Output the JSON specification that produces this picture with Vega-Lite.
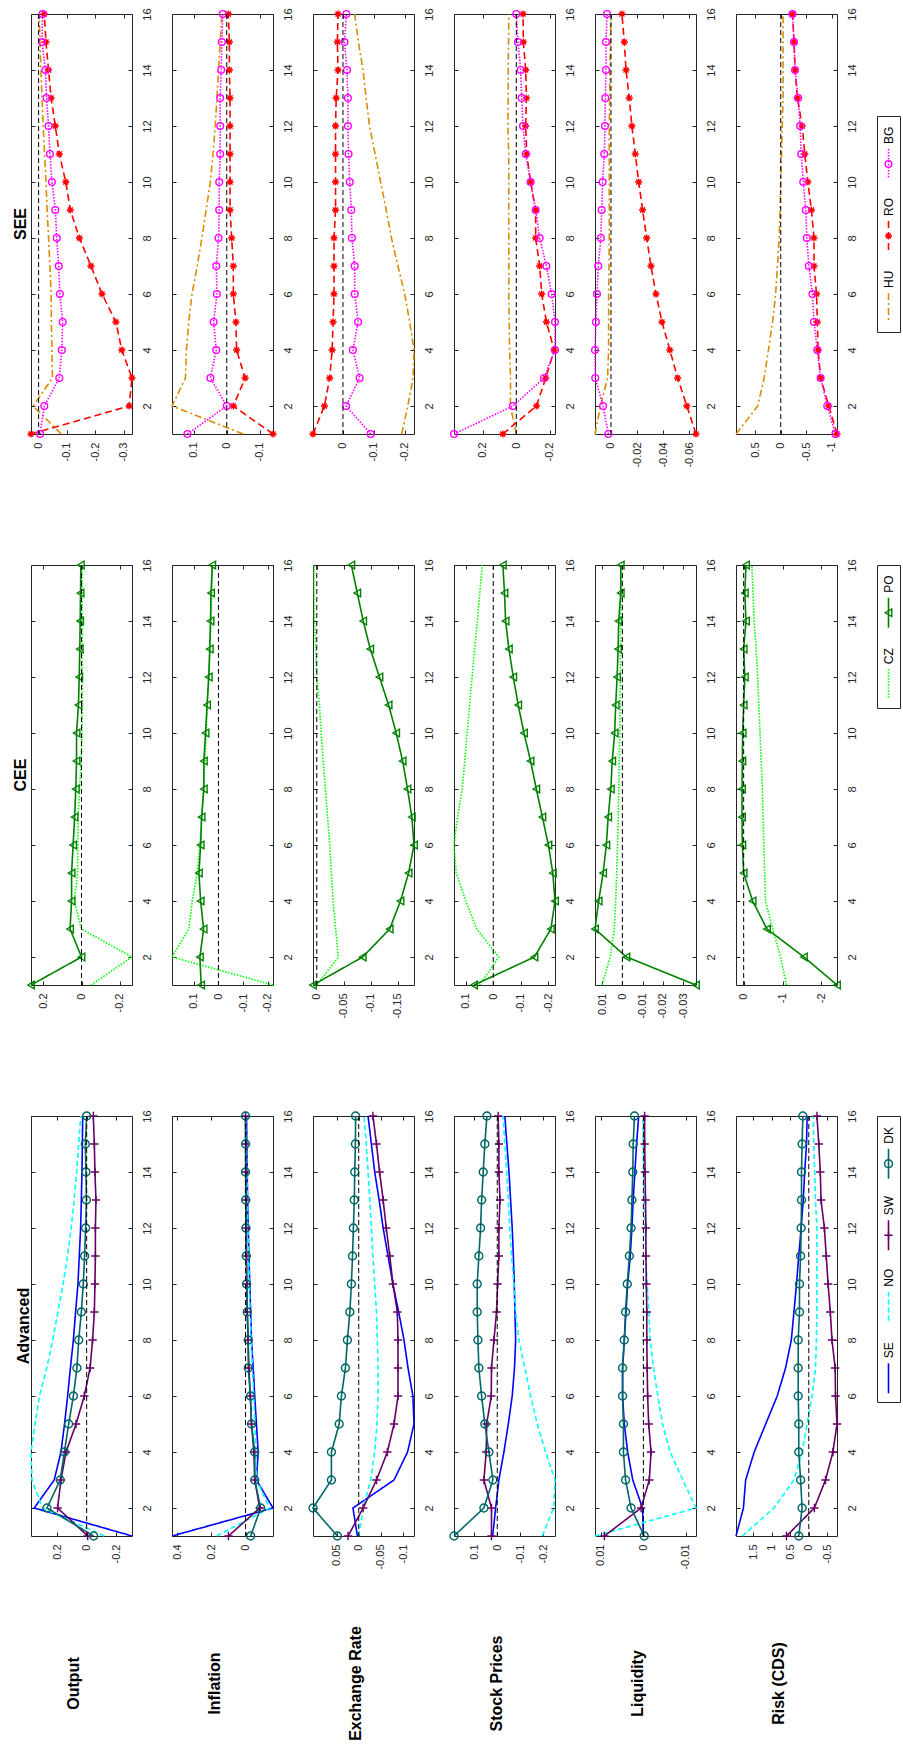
{
"$schema":"https://vega.github.io/schema/vega-lite/v6.json",
"background":"white",
"padding":{"left":12,"top":7,"right":3,"bottom":2},
"columns":7,
"spacing":{"row":131,"column":40},
"bounds":"flush",
"center":true,
"datasets":{
"leg":[
{"block":"Advanced","series":"SE"},{"block":"Advanced","series":"NO"},{"block":"Advanced","series":"SW"},{"block":"Advanced","series":"DK"},
{"block":"CEE","series":"CZ"},{"block":"CEE","series":"PO"},
{"block":"SEE","series":"HU"},{"block":"SEE","series":"RO"},{"block":"SEE","series":"BG"}
],
"irf":[
{"block":"Advanced","series":"SE","h":1,"Output":-0.307,"Inflation":0.431,"Exchange":0.003,"Stock":0.02,"Liquidity":0,"Risk":1.96},
{"block":"Advanced","series":"SE","h":2,"Output":0.355,"Inflation":-0.161,"Exchange":0.013,"Stock":0.007,"Liquidity":0.0002,"Risk":1.76},
{"block":"Advanced","series":"SE","h":3,"Output":0.22,"Inflation":-0.064,"Exchange":-0.0795,"Stock":-0.007,"Liquidity":0.0025,"Risk":1.70},
{"block":"Advanced","series":"SE","h":4,"Output":0.174,"Inflation":-0.074,"Exchange":-0.11,"Stock":-0.029,"Liquidity":0.0037,"Risk":1.47},
{"block":"Advanced","series":"SE","h":5,"Output":0.15,"Inflation":-0.064,"Exchange":-0.1245,"Stock":-0.048,"Liquidity":0.0045,"Risk":1.16},
{"block":"Advanced","series":"SE","h":6,"Output":0.129,"Inflation":-0.054,"Exchange":-0.122,"Stock":-0.065,"Liquidity":0.0049,"Risk":0.85},
{"block":"Advanced","series":"SE","h":7,"Output":0.11,"Inflation":-0.045,"Exchange":-0.111,"Stock":-0.075,"Liquidity":0.0049,"Risk":0.625},
{"block":"Advanced","series":"SE","h":8,"Output":0.09,"Inflation":-0.035,"Exchange":-0.102,"Stock":-0.08,"Liquidity":0.0045,"Risk":0.47},
{"block":"Advanced","series":"SE","h":9,"Output":0.075,"Inflation":-0.03,"Exchange":-0.09,"Stock":-0.077,"Liquidity":0.0041,"Risk":0.40},
{"block":"Advanced","series":"SE","h":10,"Output":0.059,"Inflation":-0.025,"Exchange":-0.077,"Stock":-0.074,"Liquidity":0.0037,"Risk":0.33},
{"block":"Advanced","series":"SE","h":11,"Output":0.05,"Inflation":-0.02,"Exchange":-0.066,"Stock":-0.07,"Liquidity":0.0031,"Risk":0.27},
{"block":"Advanced","series":"SE","h":12,"Output":0.041,"Inflation":-0.016,"Exchange":-0.055,"Stock":-0.065,"Liquidity":0.0027,"Risk":0.205},
{"block":"Advanced","series":"SE","h":13,"Output":0.036,"Inflation":-0.012,"Exchange":-0.046,"Stock":-0.058,"Liquidity":0.0024,"Risk":0.15},
{"block":"Advanced","series":"SE","h":14,"Output":0.032,"Inflation":-0.01,"Exchange":-0.036,"Stock":-0.051,"Liquidity":0.002,"Risk":0.11},
{"block":"Advanced","series":"SE","h":15,"Output":0.029,"Inflation":-0.008,"Exchange":-0.0285,"Stock":-0.042,"Liquidity":0.0016,"Risk":0.06},
{"block":"Advanced","series":"SE","h":16,"Output":0.027,"Inflation":-0.006,"Exchange":-0.021,"Stock":-0.033,"Liquidity":0.0011,"Risk":0.045},
{"block":"Advanced","series":"NO","h":1,"Output":-0.12,"Inflation":0.169,"Exchange":0,"Stock":-0.196,"Liquidity":0.0114,"Risk":1.79},
{"block":"Advanced","series":"NO","h":2,"Output":0.30,"Inflation":-0.142,"Exchange":-0.01,"Stock":-0.245,"Liquidity":-0.0124,"Risk":0.94},
{"block":"Advanced","series":"NO","h":3,"Output":0.37,"Inflation":-0.064,"Exchange":-0.027,"Stock":-0.251,"Liquidity":-0.0093,"Risk":0.40},
{"block":"Advanced","series":"NO","h":4,"Output":0.377,"Inflation":-0.06,"Exchange":-0.036,"Stock":-0.21,"Liquidity":-0.0063,"Risk":0.18},
{"block":"Advanced","series":"NO","h":5,"Output":0.35,"Inflation":-0.055,"Exchange":-0.041,"Stock":-0.174,"Liquidity":-0.0045,"Risk":0.045},
{"block":"Advanced","series":"NO","h":6,"Output":0.32,"Inflation":-0.048,"Exchange":-0.0435,"Stock":-0.145,"Liquidity":-0.0034,"Risk":-0.09},
{"block":"Advanced","series":"NO","h":7,"Output":0.27,"Inflation":-0.04,"Exchange":-0.0435,"Stock":-0.12,"Liquidity":-0.0024,"Risk":-0.18},
{"block":"Advanced","series":"NO","h":8,"Output":0.23,"Inflation":-0.033,"Exchange":-0.042,"Stock":-0.094,"Liquidity":-0.0016,"Risk":-0.205},
{"block":"Advanced","series":"NO","h":9,"Output":0.195,"Inflation":-0.027,"Exchange":-0.04,"Stock":-0.08,"Liquidity":-0.0013,"Risk":-0.22},
{"block":"Advanced","series":"NO","h":10,"Output":0.16,"Inflation":-0.022,"Exchange":-0.036,"Stock":-0.0725,"Liquidity":-0.0009,"Risk":-0.22},
{"block":"Advanced","series":"NO","h":11,"Output":0.13,"Inflation":-0.018,"Exchange":-0.032,"Stock":-0.062,"Liquidity":-0.0006,"Risk":-0.22},
{"block":"Advanced","series":"NO","h":12,"Output":0.105,"Inflation":-0.014,"Exchange":-0.0285,"Stock":-0.054,"Liquidity":-0.0004,"Risk":-0.22},
{"block":"Advanced","series":"NO","h":13,"Output":0.085,"Inflation":-0.011,"Exchange":-0.025,"Stock":-0.048,"Liquidity":-0.0002,"Risk":-0.18},
{"block":"Advanced","series":"NO","h":14,"Output":0.068,"Inflation":-0.008,"Exchange":-0.021,"Stock":-0.041,"Liquidity":-0.0001,"Risk":-0.16},
{"block":"Advanced","series":"NO","h":15,"Output":0.054,"Inflation":-0.006,"Exchange":-0.017,"Stock":-0.033,"Liquidity":0,"Risk":-0.134},
{"block":"Advanced","series":"NO","h":16,"Output":0.04,"Inflation":-0.004,"Exchange":-0.012,"Stock":-0.025,"Liquidity":0.0001,"Risk":-0.12},
{"block":"Advanced","series":"SW","h":1,"Output":-0.007,"Inflation":0.1,"Exchange":0.024,"Stock":0.025,"Liquidity":0.0092,"Risk":0.60},
{"block":"Advanced","series":"SW","h":2,"Output":0.197,"Inflation":-0.083,"Exchange":-0.01,"Stock":0.025,"Liquidity":0.00055,"Risk":-0.15},
{"block":"Advanced","series":"SW","h":3,"Output":0.174,"Inflation":-0.054,"Exchange":-0.04,"Stock":0.058,"Liquidity":-0.0014,"Risk":-0.45},
{"block":"Advanced","series":"SW","h":4,"Output":0.14,"Inflation":-0.049,"Exchange":-0.0645,"Stock":0.048,"Liquidity":-0.0018,"Risk":-0.65},
{"block":"Advanced","series":"SW","h":5,"Output":0.072,"Inflation":-0.035,"Exchange":-0.0795,"Stock":0.046,"Liquidity":-0.00125,"Risk":-0.76},
{"block":"Advanced","series":"SW","h":6,"Output":0.016,"Inflation":-0.028,"Exchange":-0.0885,"Stock":0.026,"Liquidity":-0.001,"Risk":-0.72},
{"block":"Advanced","series":"SW","h":7,"Output":-0.023,"Inflation":-0.02,"Exchange":-0.0885,"Stock":0.025,"Liquidity":-0.0009,"Risk":-0.71},
{"block":"Advanced","series":"SW","h":8,"Output":-0.04,"Inflation":-0.015,"Exchange":-0.0885,"Stock":0.0145,"Liquidity":-0.0008,"Risk":-0.625},
{"block":"Advanced","series":"SW","h":9,"Output":-0.052,"Inflation":-0.01,"Exchange":-0.087,"Stock":0.003,"Liquidity":-0.0008,"Risk":-0.58},
{"block":"Advanced","series":"SW","h":10,"Output":-0.056,"Inflation":-0.008,"Exchange":-0.077,"Stock":-0.0015,"Liquidity":-0.0007,"Risk":-0.52},
{"block":"Advanced","series":"SW","h":11,"Output":-0.059,"Inflation":-0.006,"Exchange":-0.07,"Stock":-0.007,"Liquidity":-0.0006,"Risk":-0.47},
{"block":"Advanced","series":"SW","h":12,"Output":-0.059,"Inflation":-0.004,"Exchange":-0.062,"Stock":-0.007,"Liquidity":-0.0006,"Risk":-0.42},
{"block":"Advanced","series":"SW","h":13,"Output":-0.063,"Inflation":-0.003,"Exchange":-0.055,"Stock":-0.012,"Liquidity":-0.0005,"Risk":-0.33},
{"block":"Advanced","series":"SW","h":14,"Output":-0.056,"Inflation":-0.002,"Exchange":-0.047,"Stock":-0.007,"Liquidity":-0.0004,"Risk":-0.31},
{"block":"Advanced","series":"SW","h":15,"Output":-0.052,"Inflation":-0.001,"Exchange":-0.04,"Stock":-0.007,"Liquidity":-0.0003,"Risk":-0.27},
{"block":"Advanced","series":"SW","h":16,"Output":-0.045,"Inflation":0,"Exchange":-0.032,"Stock":-0.004,"Liquidity":-0.0003,"Risk":-0.22},
{"block":"Advanced","series":"DK","h":1,"Output":-0.047,"Inflation":-0.03,"Exchange":0.048,"Stock":0.188,"Liquidity":-0.0002,"Risk":0.27},
{"block":"Advanced","series":"DK","h":2,"Output":0.269,"Inflation":-0.089,"Exchange":0.103,"Stock":0.058,"Liquidity":0.0029,"Risk":0.18},
{"block":"Advanced","series":"DK","h":3,"Output":0.179,"Inflation":-0.054,"Exchange":0.0615,"Stock":0.019,"Liquidity":0.0042,"Risk":0.22},
{"block":"Advanced","series":"DK","h":4,"Output":0.151,"Inflation":-0.054,"Exchange":0.0615,"Stock":0.036,"Liquidity":0.0047,"Risk":0.27},
{"block":"Advanced","series":"DK","h":5,"Output":0.122,"Inflation":-0.035,"Exchange":0.044,"Stock":0.054,"Liquidity":0.0047,"Risk":0.27},
{"block":"Advanced","series":"DK","h":6,"Output":0.09,"Inflation":-0.029,"Exchange":0.039,"Stock":0.068,"Liquidity":0.0049,"Risk":0.285},
{"block":"Advanced","series":"DK","h":7,"Output":0.066,"Inflation":-0.016,"Exchange":0.03,"Stock":0.08,"Liquidity":0.0049,"Risk":0.285},
{"block":"Advanced","series":"DK","h":8,"Output":0.054,"Inflation":-0.016,"Exchange":0.0255,"Stock":0.084,"Liquidity":0.0045,"Risk":0.285},
{"block":"Advanced","series":"DK","h":9,"Output":0.036,"Inflation":-0.01,"Exchange":0.02,"Stock":0.087,"Liquidity":0.0042,"Risk":0.25},
{"block":"Advanced","series":"DK","h":10,"Output":0.023,"Inflation":-0.006,"Exchange":0.0165,"Stock":0.087,"Liquidity":0.0038,"Risk":0.25},
{"block":"Advanced","series":"DK","h":11,"Output":0.014,"Inflation":-0.004,"Exchange":0.014,"Stock":0.08,"Liquidity":0.0033,"Risk":0.22},
{"block":"Advanced","series":"DK","h":12,"Output":0.007,"Inflation":-0.002,"Exchange":0.012,"Stock":0.0725,"Liquidity":0.0029,"Risk":0.205},
{"block":"Advanced","series":"DK","h":13,"Output":0.002,"Inflation":-0.001,"Exchange":0.01,"Stock":0.068,"Liquidity":0.0027,"Risk":0.196},
{"block":"Advanced","series":"DK","h":14,"Output":0.005,"Inflation":0,"Exchange":0.009,"Stock":0.061,"Liquidity":0.0025,"Risk":0.196},
{"block":"Advanced","series":"DK","h":15,"Output":0.009,"Inflation":0,"Exchange":0.0075,"Stock":0.054,"Liquidity":0.0024,"Risk":0.18},
{"block":"Advanced","series":"DK","h":16,"Output":0,"Inflation":0,"Exchange":0.007,"Stock":0.045,"Liquidity":0.0021,"Risk":0.16},
{"block":"CEE","series":"CZ","h":1,"Output":-0.05,"Inflation":-0.221,"Exchange":0,"Stock":0.05,"Liquidity":0.01,"Risk":-1.1},
{"block":"CEE","series":"CZ","h":2,"Output":-0.265,"Inflation":0.188,"Exchange":-0.04,"Stock":-0.02,"Liquidity":0.006,"Risk":-0.95},
{"block":"CEE","series":"CZ","h":3,"Output":0,"Inflation":0.12,"Exchange":-0.035,"Stock":0.06,"Liquidity":0.004,"Risk":-0.75},
{"block":"CEE","series":"CZ","h":4,"Output":0.038,"Inflation":0.106,"Exchange":-0.03,"Stock":0.1,"Liquidity":0.0033,"Risk":-0.56},
{"block":"CEE","series":"CZ","h":5,"Output":0.02,"Inflation":0.086,"Exchange":-0.027,"Stock":0.135,"Liquidity":0.0028,"Risk":-0.54},
{"block":"CEE","series":"CZ","h":6,"Output":0.02,"Inflation":0.075,"Exchange":-0.024,"Stock":0.143,"Liquidity":0.0024,"Risk":-0.52},
{"block":"CEE","series":"CZ","h":7,"Output":0.018,"Inflation":0.068,"Exchange":-0.02,"Stock":0.13,"Liquidity":0.002,"Risk":-0.5},
{"block":"CEE","series":"CZ","h":8,"Output":0.01,"Inflation":0.06,"Exchange":-0.016,"Stock":0.113,"Liquidity":0.0018,"Risk":-0.48},
{"block":"CEE","series":"CZ","h":9,"Output":0.002,"Inflation":0.055,"Exchange":-0.012,"Stock":0.104,"Liquidity":0.0015,"Risk":-0.45},
{"block":"CEE","series":"CZ","h":10,"Output":-0.003,"Inflation":0.05,"Exchange":-0.008,"Stock":0.095,"Liquidity":0.0013,"Risk":-0.42},
{"block":"CEE","series":"CZ","h":11,"Output":-0.005,"Inflation":0.045,"Exchange":-0.005,"Stock":0.086,"Liquidity":0.0011,"Risk":-0.39},
{"block":"CEE","series":"CZ","h":12,"Output":-0.005,"Inflation":0.04,"Exchange":0,"Stock":0.077,"Liquidity":0.001,"Risk":-0.36},
{"block":"CEE","series":"CZ","h":13,"Output":-0.004,"Inflation":0.035,"Exchange":0.002,"Stock":0.068,"Liquidity":0.0009,"Risk":-0.32},
{"block":"CEE","series":"CZ","h":14,"Output":-0.003,"Inflation":0.03,"Exchange":0.004,"Stock":0.058,"Liquidity":0.0008,"Risk":-0.27},
{"block":"CEE","series":"CZ","h":15,"Output":-0.003,"Inflation":0.027,"Exchange":0.005,"Stock":0.049,"Liquidity":0.0007,"Risk":-0.24},
{"block":"CEE","series":"CZ","h":16,"Output":-0.002,"Inflation":0.024,"Exchange":0.005,"Stock":0.04,"Liquidity":0.0006,"Risk":-0.21},
{"block":"CEE","series":"PO","h":1,"Output":0.265,"Inflation":0.07,"Exchange":0.007,"Stock":0.07,"Liquidity":-0.0363,"Risk":-2.4},
{"block":"CEE","series":"PO","h":2,"Output":0,"Inflation":0.075,"Exchange":-0.085,"Stock":-0.15,"Liquidity":-0.002,"Risk":-1.55},
{"block":"CEE","series":"PO","h":3,"Output":0.06,"Inflation":0.06,"Exchange":-0.135,"Stock":-0.21,"Liquidity":0.0135,"Risk":-0.6},
{"block":"CEE","series":"PO","h":4,"Output":0.052,"Inflation":0.072,"Exchange":-0.155,"Stock":-0.225,"Liquidity":0.0117,"Risk":-0.23},
{"block":"CEE","series":"PO","h":5,"Output":0.052,"Inflation":0.079,"Exchange":-0.17,"Stock":-0.217,"Liquidity":0.0095,"Risk":0},
{"block":"CEE","series":"PO","h":6,"Output":0.044,"Inflation":0.072,"Exchange":-0.18,"Stock":-0.201,"Liquidity":0.0079,"Risk":0.034},
{"block":"CEE","series":"PO","h":7,"Output":0.036,"Inflation":0.068,"Exchange":-0.176,"Stock":-0.179,"Liquidity":0.007,"Risk":0.043},
{"block":"CEE","series":"PO","h":8,"Output":0.03,"Inflation":0.059,"Exchange":-0.168,"Stock":-0.157,"Liquidity":0.0057,"Risk":0.043},
{"block":"CEE","series":"PO","h":9,"Output":0.026,"Inflation":0.059,"Exchange":-0.159,"Stock":-0.136,"Liquidity":0.005,"Risk":0.034},
{"block":"CEE","series":"PO","h":10,"Output":0.026,"Inflation":0.052,"Exchange":-0.147,"Stock":-0.112,"Liquidity":0.0038,"Risk":0.026},
{"block":"CEE","series":"PO","h":11,"Output":0.016,"Inflation":0.046,"Exchange":-0.133,"Stock":-0.091,"Liquidity":0.0033,"Risk":0},
{"block":"CEE","series":"PO","h":12,"Output":0.012,"Inflation":0.039,"Exchange":-0.116,"Stock":-0.073,"Liquidity":0.0026,"Risk":-0.03},
{"block":"CEE","series":"PO","h":13,"Output":0.009,"Inflation":0.035,"Exchange":-0.099,"Stock":-0.057,"Liquidity":0.0021,"Risk":0},
{"block":"CEE","series":"PO","h":14,"Output":0.007,"Inflation":0.032,"Exchange":-0.086,"Stock":-0.045,"Liquidity":0.0018,"Risk":-0.06},
{"block":"CEE","series":"PO","h":15,"Output":0.005,"Inflation":0.03,"Exchange":-0.075,"Stock":-0.041,"Liquidity":0.0008,"Risk":-0.03},
{"block":"CEE","series":"PO","h":16,"Output":0.0035,"Inflation":0.025,"Exchange":-0.064,"Stock":-0.035,"Liquidity":0.0008,"Risk":-0.06},
{"block":"SEE","series":"HU","h":1,"Output":-0.08,"Inflation":-0.05,"Exchange":-0.19,"Stock":0,"Liquidity":0.0122,"Risk":0.875},
{"block":"SEE","series":"HU","h":2,"Output":0.02,"Inflation":0.167,"Exchange":-0.21,"Stock":0.035,"Liquidity":0.008,"Risk":0.45},
{"block":"SEE","series":"HU","h":3,"Output":-0.049,"Inflation":0.126,"Exchange":-0.227,"Stock":0.034,"Liquidity":0.0026,"Risk":0.325},
{"block":"SEE","series":"HU","h":4,"Output":-0.047,"Inflation":0.123,"Exchange":-0.23,"Stock":0.04,"Liquidity":0.0018,"Risk":0.24},
{"block":"SEE","series":"HU","h":5,"Output":-0.045,"Inflation":0.116,"Exchange":-0.216,"Stock":0.042,"Liquidity":0.0018,"Risk":0.16},
{"block":"SEE","series":"HU","h":6,"Output":-0.044,"Inflation":0.106,"Exchange":-0.2,"Stock":0.044,"Liquidity":0.0018,"Risk":0.1},
{"block":"SEE","series":"HU","h":7,"Output":-0.04,"Inflation":0.09,"Exchange":-0.178,"Stock":0.044,"Liquidity":0.0015,"Risk":0.065},
{"block":"SEE","series":"HU","h":8,"Output":-0.035,"Inflation":0.076,"Exchange":-0.157,"Stock":0.044,"Liquidity":0.0013,"Risk":0.03},
{"block":"SEE","series":"HU","h":9,"Output":-0.03,"Inflation":0.063,"Exchange":-0.14,"Stock":0.045,"Liquidity":0.0013,"Risk":0.015},
{"block":"SEE","series":"HU","h":10,"Output":-0.026,"Inflation":0.05,"Exchange":-0.122,"Stock":0.044,"Liquidity":0.0013,"Risk":0},
{"block":"SEE","series":"HU","h":11,"Output":-0.021,"Inflation":0.042,"Exchange":-0.104,"Stock":0.045,"Liquidity":0.0013,"Risk":-0.015},
{"block":"SEE","series":"HU","h":12,"Output":-0.016,"Inflation":0.035,"Exchange":-0.086,"Stock":0.05,"Liquidity":0.0013,"Risk":-0.03},
{"block":"SEE","series":"HU","h":13,"Output":-0.012,"Inflation":0.03,"Exchange":-0.075,"Stock":0.048,"Liquidity":0.001,"Risk":-0.045},
{"block":"SEE","series":"HU","h":14,"Output":-0.008,"Inflation":0.025,"Exchange":-0.065,"Stock":0.048,"Liquidity":0.0008,"Risk":-0.045},
{"block":"SEE","series":"HU","h":15,"Output":-0.005,"Inflation":0.02,"Exchange":-0.05,"Stock":0.046,"Liquidity":0.0004,"Risk":-0.045},
{"block":"SEE","series":"HU","h":16,"Output":-0.002,"Inflation":0.015,"Exchange":-0.038,"Stock":0.044,"Liquidity":0,"Risk":-0.045},
{"block":"SEE","series":"RO","h":1,"Output":0.027,"Inflation":-0.141,"Exchange":0.097,"Stock":0.08,"Liquidity":-0.065,"Risk":-1.1},
{"block":"SEE","series":"RO","h":2,"Output":-0.32,"Inflation":-0.02,"Exchange":0.06,"Stock":-0.12,"Liquidity":-0.058,"Risk":-0.94},
{"block":"SEE","series":"RO","h":3,"Output":-0.33,"Inflation":-0.056,"Exchange":0.043,"Stock":-0.175,"Liquidity":-0.051,"Risk":-0.78},
{"block":"SEE","series":"RO","h":4,"Output":-0.294,"Inflation":-0.03,"Exchange":0.035,"Stock":-0.225,"Liquidity":-0.045,"Risk":-0.73},
{"block":"SEE","series":"RO","h":5,"Output":-0.273,"Inflation":-0.028,"Exchange":0.032,"Stock":-0.179,"Liquidity":-0.039,"Risk":-0.715},
{"block":"SEE","series":"RO","h":6,"Output":-0.224,"Inflation":-0.02,"Exchange":0.029,"Stock":-0.151,"Liquidity":-0.0344,"Risk":-0.7},
{"block":"SEE","series":"RO","h":7,"Output":-0.185,"Inflation":-0.02,"Exchange":0.029,"Stock":-0.139,"Liquidity":-0.0306,"Risk":-0.65},
{"block":"SEE","series":"RO","h":8,"Output":-0.144,"Inflation":-0.015,"Exchange":0.029,"Stock":-0.115,"Liquidity":-0.0273,"Risk":-0.65},
{"block":"SEE","series":"RO","h":9,"Output":-0.112,"Inflation":-0.01,"Exchange":0.024,"Stock":-0.115,"Liquidity":-0.0242,"Risk":-0.6},
{"block":"SEE","series":"RO","h":10,"Output":-0.096,"Inflation":-0.01,"Exchange":0.024,"Stock":-0.085,"Liquidity":-0.0212,"Risk":-0.53},
{"block":"SEE","series":"RO","h":11,"Output":-0.073,"Inflation":-0.01,"Exchange":0.024,"Stock":-0.062,"Liquidity":-0.0186,"Risk":-0.47},
{"block":"SEE","series":"RO","h":12,"Output":-0.059,"Inflation":-0.01,"Exchange":0.024,"Stock":-0.056,"Liquidity":-0.016,"Risk":-0.42},
{"block":"SEE","series":"RO","h":13,"Output":-0.044,"Inflation":-0.01,"Exchange":0.022,"Stock":-0.06,"Liquidity":-0.014,"Risk":-0.325},
{"block":"SEE","series":"RO","h":14,"Output":-0.035,"Inflation":-0.008,"Exchange":0.016,"Stock":-0.056,"Liquidity":-0.0115,"Risk":-0.28},
{"block":"SEE","series":"RO","h":15,"Output":-0.026,"Inflation":-0.008,"Exchange":0.018,"Stock":-0.042,"Liquidity":-0.0102,"Risk":-0.26},
{"block":"SEE","series":"RO","h":16,"Output":-0.02,"Inflation":-0.005,"Exchange":0.016,"Stock":-0.04,"Liquidity":-0.0084,"Risk":-0.23},
{"block":"SEE","series":"BG","h":1,"Output":-0.005,"Inflation":0.12,"Exchange":-0.09,"Stock":0.37,"Liquidity":0.002,"Risk":-1.07},
{"block":"SEE","series":"BG","h":2,"Output":-0.02,"Inflation":0,"Exchange":-0.01,"Stock":0.02,"Liquidity":0.006,"Risk":-0.91},
{"block":"SEE","series":"BG","h":3,"Output":-0.073,"Inflation":0.05,"Exchange":-0.054,"Stock":-0.165,"Liquidity":0.012,"Risk":-0.78},
{"block":"SEE","series":"BG","h":4,"Output":-0.082,"Inflation":0.032,"Exchange":-0.032,"Stock":-0.23,"Liquidity":0.0122,"Risk":-0.715},
{"block":"SEE","series":"BG","h":5,"Output":-0.085,"Inflation":0.04,"Exchange":-0.049,"Stock":-0.23,"Liquidity":0.0115,"Risk":-0.65},
{"block":"SEE","series":"BG","h":6,"Output":-0.075,"Inflation":0.03,"Exchange":-0.038,"Stock":-0.21,"Liquidity":0.0107,"Risk":-0.62},
{"block":"SEE","series":"BG","h":7,"Output":-0.071,"Inflation":0.032,"Exchange":-0.038,"Stock":-0.179,"Liquidity":0.0097,"Risk":-0.55},
{"block":"SEE","series":"BG","h":8,"Output":-0.064,"Inflation":0.025,"Exchange":-0.029,"Stock":-0.139,"Liquidity":0.0077,"Risk":-0.51},
{"block":"SEE","series":"BG","h":9,"Output":-0.059,"Inflation":0.023,"Exchange":-0.027,"Stock":-0.115,"Liquidity":0.0071,"Risk":-0.49},
{"block":"SEE","series":"BG","h":10,"Output":-0.047,"Inflation":0.023,"Exchange":-0.022,"Stock":-0.085,"Liquidity":0.0064,"Risk":-0.44},
{"block":"SEE","series":"BG","h":11,"Output":-0.04,"Inflation":0.02,"Exchange":-0.018,"Stock":-0.056,"Liquidity":0.0051,"Risk":-0.4},
{"block":"SEE","series":"BG","h":12,"Output":-0.035,"Inflation":0.02,"Exchange":-0.016,"Stock":-0.04,"Liquidity":0.0046,"Risk":-0.38},
{"block":"SEE","series":"BG","h":13,"Output":-0.028,"Inflation":0.02,"Exchange":-0.016,"Stock":-0.032,"Liquidity":0.0043,"Risk":-0.34},
{"block":"SEE","series":"BG","h":14,"Output":-0.024,"Inflation":0.017,"Exchange":-0.013,"Stock":-0.026,"Liquidity":0.0038,"Risk":-0.28},
{"block":"SEE","series":"BG","h":15,"Output":-0.012,"Inflation":0.015,"Exchange":-0.005,"Stock":-0.01,"Liquidity":0.0038,"Risk":-0.26},
{"block":"SEE","series":"BG","h":16,"Output":-0.014,"Inflation":0.012,"Exchange":-0.011,"Stock":0,"Liquidity":0.003,"Risk":-0.23}
]
},
"concat":[
{"width":101,"height":420,"title":{"text":"SEE","orient":"left","anchor":"middle","frame":"group","offset":-20,"fontSize":16,"fontWeight":"bold","font":"Liberation Sans","color":"#000","baseline":"bottom"},"resolve":{"axis":{"x":"independent","y":"independent"}},"layer":[
{"data":{"name":"irf"},"transform":[{"filter":{"field":"block","equal":"SEE"}}],"mark":{"type":"line","strokeWidth":1.6},"encoding":{"x":{"field":"Output","type":"quantitative","scale":{"domain":[-0.33,0.027],"reverse":true,"nice":false,"zero":false},"axis":{"orient":"bottom","values":[-0.3,-0.2,-0.1,0],"format":"~g","labelExpr":"replace(datum.label,'−','-')","labelAngle":270,"labelAlign":"right","labelBaseline":"middle","labelPadding":12,"tickSize":-4,"labelFlush":false,"labelOverlap":false,"title":null}},"y":{"field":"h","type":"quantitative","scale":{"domain":[1,16],"nice":false,"zero":false},"axis":{"orient":"right","values":[2,4,6,8,10,12,14,16],"format":"d","labelAngle":270,"labelAlign":"center","labelBaseline":"top","labelPadding":13,"tickSize":-4,"labelFlush":false,"labelOverlap":false,"title":null}},"color":{"field":"series","type":"nominal","scale":{"domain":["SE","NO","SW","DK","CZ","PO","HU","RO","BG"],"range":["#0000ff","#00ffff","#660066","#006666","#00ff00","#008000","#d98c00","#ff0000","#ff00ff"]},"legend":null},"strokeDash":{"field":"series","type":"nominal","scale":{"domain":["SE","NO","SW","DK","CZ","PO","HU","RO","BG"],"range":[[1,0],[5,3],[1,0],[1,0],[1.5,1.5],[1,0],[7,3,2,3],[7,4],[1.5,1.5]]},"legend":null},"order":{"field":"h","type":"quantitative"}}},
{"data":{"name":"irf"},"transform":[{"filter":{"field":"block","equal":"SEE"}},{"filter":{"field":"series","oneOf":["RO","BG"]}}],"mark":{"type":"point","filled":false,"strokeWidth":1.4,"opacity":1},"encoding":{"x":{"field":"Output","type":"quantitative","scale":{"domain":[-0.33,0.027],"reverse":true,"nice":false,"zero":false},"axis":{"orient":"top","values":[-0.3,-0.2,-0.1,0],"labels":false,"tickSize":-4,"title":null}},"y":{"field":"h","type":"quantitative","scale":{"domain":[1,16],"nice":false,"zero":false},"axis":{"orient":"left","values":[2,4,6,8,10,12,14,16],"labels":false,"tickSize":-4,"title":null}},"color":{"field":"series","type":"nominal","scale":{"domain":["SE","NO","SW","DK","CZ","PO","HU","RO","BG"],"range":["#0000ff","#00ffff","#660066","#006666","#00ff00","#008000","#d98c00","#ff0000","#ff00ff"]},"legend":null},"shape":{"field":"series","type":"nominal","scale":{"domain":["SW","DK","PO","RO","BG"],"range":["M-1,0L1,0M0,-1L0,1","circle","triangle-left","M-1,0L1,0M0,-1L0,1M-0.7,-0.7L0.7,0.7M-0.7,0.7L0.7,-0.7","circle"]},"legend":null},"size":{"field":"series","type":"nominal","scale":{"domain":["SW","DK","PO","RO","BG"],"range":[70,45,60,90,40]},"legend":null}}},
{"data":{"values":[{}]},"mark":{"type":"rule","color":"#000","strokeWidth":1,"strokeDash":[5,3]},"encoding":{"x":{"datum":0,"type":"quantitative","scale":{"domain":[-0.33,0.027],"reverse":true,"nice":false,"zero":false},"axis":null}}}
]},
{"width":101,"height":420,"resolve":{"axis":{"x":"independent","y":"independent"}},"layer":[
{"data":{"name":"irf"},"transform":[{"filter":{"field":"block","equal":"SEE"}}],"mark":{"type":"line","strokeWidth":1.6},"encoding":{"x":{"field":"Inflation","type":"quantitative","scale":{"domain":[-0.141,0.167],"reverse":true,"nice":false,"zero":false},"axis":{"orient":"bottom","values":[-0.1,0,0.1],"format":"~g","labelExpr":"replace(datum.label,'−','-')","labelAngle":270,"labelAlign":"right","labelBaseline":"middle","labelPadding":12,"tickSize":-4,"labelFlush":false,"labelOverlap":false,"title":null}},"y":{"field":"h","type":"quantitative","scale":{"domain":[1,16],"nice":false,"zero":false},"axis":{"orient":"right","values":[2,4,6,8,10,12,14,16],"format":"d","labelAngle":270,"labelAlign":"center","labelBaseline":"top","labelPadding":13,"tickSize":-4,"labelFlush":false,"labelOverlap":false,"title":null}},"color":{"field":"series","type":"nominal","scale":{"domain":["SE","NO","SW","DK","CZ","PO","HU","RO","BG"],"range":["#0000ff","#00ffff","#660066","#006666","#00ff00","#008000","#d98c00","#ff0000","#ff00ff"]},"legend":null},"strokeDash":{"field":"series","type":"nominal","scale":{"domain":["SE","NO","SW","DK","CZ","PO","HU","RO","BG"],"range":[[1,0],[5,3],[1,0],[1,0],[1.5,1.5],[1,0],[7,3,2,3],[7,4],[1.5,1.5]]},"legend":null},"order":{"field":"h","type":"quantitative"}}},
{"data":{"name":"irf"},"transform":[{"filter":{"field":"block","equal":"SEE"}},{"filter":{"field":"series","oneOf":["RO","BG"]}}],"mark":{"type":"point","filled":false,"strokeWidth":1.4,"opacity":1},"encoding":{"x":{"field":"Inflation","type":"quantitative","scale":{"domain":[-0.141,0.167],"reverse":true,"nice":false,"zero":false},"axis":{"orient":"top","values":[-0.1,0,0.1],"labels":false,"tickSize":-4,"title":null}},"y":{"field":"h","type":"quantitative","scale":{"domain":[1,16],"nice":false,"zero":false},"axis":{"orient":"left","values":[2,4,6,8,10,12,14,16],"labels":false,"tickSize":-4,"title":null}},"color":{"field":"series","type":"nominal","scale":{"domain":["SE","NO","SW","DK","CZ","PO","HU","RO","BG"],"range":["#0000ff","#00ffff","#660066","#006666","#00ff00","#008000","#d98c00","#ff0000","#ff00ff"]},"legend":null},"shape":{"field":"series","type":"nominal","scale":{"domain":["SW","DK","PO","RO","BG"],"range":["M-1,0L1,0M0,-1L0,1","circle","triangle-left","M-1,0L1,0M0,-1L0,1M-0.7,-0.7L0.7,0.7M-0.7,0.7L0.7,-0.7","circle"]},"legend":null},"size":{"field":"series","type":"nominal","scale":{"domain":["SW","DK","PO","RO","BG"],"range":[70,45,60,90,40]},"legend":null}}},
{"data":{"values":[{}]},"mark":{"type":"rule","color":"#000","strokeWidth":1,"strokeDash":[5,3]},"encoding":{"x":{"datum":0,"type":"quantitative","scale":{"domain":[-0.141,0.167],"reverse":true,"nice":false,"zero":false},"axis":null}}}
]},
{"width":101,"height":420,"resolve":{"axis":{"x":"independent","y":"independent"}},"layer":[
{"data":{"name":"irf"},"transform":[{"filter":{"field":"block","equal":"SEE"}}],"mark":{"type":"line","strokeWidth":1.6},"encoding":{"x":{"field":"Exchange","type":"quantitative","scale":{"domain":[-0.23,0.097],"reverse":true,"nice":false,"zero":false},"axis":{"orient":"bottom","values":[-0.2,-0.1,0],"format":"~g","labelExpr":"replace(datum.label,'−','-')","labelAngle":270,"labelAlign":"right","labelBaseline":"middle","labelPadding":12,"tickSize":-4,"labelFlush":false,"labelOverlap":false,"title":null}},"y":{"field":"h","type":"quantitative","scale":{"domain":[1,16],"nice":false,"zero":false},"axis":{"orient":"right","values":[2,4,6,8,10,12,14,16],"format":"d","labelAngle":270,"labelAlign":"center","labelBaseline":"top","labelPadding":13,"tickSize":-4,"labelFlush":false,"labelOverlap":false,"title":null}},"color":{"field":"series","type":"nominal","scale":{"domain":["SE","NO","SW","DK","CZ","PO","HU","RO","BG"],"range":["#0000ff","#00ffff","#660066","#006666","#00ff00","#008000","#d98c00","#ff0000","#ff00ff"]},"legend":null},"strokeDash":{"field":"series","type":"nominal","scale":{"domain":["SE","NO","SW","DK","CZ","PO","HU","RO","BG"],"range":[[1,0],[5,3],[1,0],[1,0],[1.5,1.5],[1,0],[7,3,2,3],[7,4],[1.5,1.5]]},"legend":null},"order":{"field":"h","type":"quantitative"}}},
{"data":{"name":"irf"},"transform":[{"filter":{"field":"block","equal":"SEE"}},{"filter":{"field":"series","oneOf":["RO","BG"]}}],"mark":{"type":"point","filled":false,"strokeWidth":1.4,"opacity":1},"encoding":{"x":{"field":"Exchange","type":"quantitative","scale":{"domain":[-0.23,0.097],"reverse":true,"nice":false,"zero":false},"axis":{"orient":"top","values":[-0.2,-0.1,0],"labels":false,"tickSize":-4,"title":null}},"y":{"field":"h","type":"quantitative","scale":{"domain":[1,16],"nice":false,"zero":false},"axis":{"orient":"left","values":[2,4,6,8,10,12,14,16],"labels":false,"tickSize":-4,"title":null}},"color":{"field":"series","type":"nominal","scale":{"domain":["SE","NO","SW","DK","CZ","PO","HU","RO","BG"],"range":["#0000ff","#00ffff","#660066","#006666","#00ff00","#008000","#d98c00","#ff0000","#ff00ff"]},"legend":null},"shape":{"field":"series","type":"nominal","scale":{"domain":["SW","DK","PO","RO","BG"],"range":["M-1,0L1,0M0,-1L0,1","circle","triangle-left","M-1,0L1,0M0,-1L0,1M-0.7,-0.7L0.7,0.7M-0.7,0.7L0.7,-0.7","circle"]},"legend":null},"size":{"field":"series","type":"nominal","scale":{"domain":["SW","DK","PO","RO","BG"],"range":[70,45,60,90,40]},"legend":null}}},
{"data":{"values":[{}]},"mark":{"type":"rule","color":"#000","strokeWidth":1,"strokeDash":[5,3]},"encoding":{"x":{"datum":0,"type":"quantitative","scale":{"domain":[-0.23,0.097],"reverse":true,"nice":false,"zero":false},"axis":null}}}
]},
{"width":101,"height":420,"resolve":{"axis":{"x":"independent","y":"independent"}},"layer":[
{"data":{"name":"irf"},"transform":[{"filter":{"field":"block","equal":"SEE"}}],"mark":{"type":"line","strokeWidth":1.6},"encoding":{"x":{"field":"Stock","type":"quantitative","scale":{"domain":[-0.23,0.37],"reverse":true,"nice":false,"zero":false},"axis":{"orient":"bottom","values":[-0.2,0,0.2],"format":"~g","labelExpr":"replace(datum.label,'−','-')","labelAngle":270,"labelAlign":"right","labelBaseline":"middle","labelPadding":12,"tickSize":-4,"labelFlush":false,"labelOverlap":false,"title":null}},"y":{"field":"h","type":"quantitative","scale":{"domain":[1,16],"nice":false,"zero":false},"axis":{"orient":"right","values":[2,4,6,8,10,12,14,16],"format":"d","labelAngle":270,"labelAlign":"center","labelBaseline":"top","labelPadding":13,"tickSize":-4,"labelFlush":false,"labelOverlap":false,"title":null}},"color":{"field":"series","type":"nominal","scale":{"domain":["SE","NO","SW","DK","CZ","PO","HU","RO","BG"],"range":["#0000ff","#00ffff","#660066","#006666","#00ff00","#008000","#d98c00","#ff0000","#ff00ff"]},"legend":null},"strokeDash":{"field":"series","type":"nominal","scale":{"domain":["SE","NO","SW","DK","CZ","PO","HU","RO","BG"],"range":[[1,0],[5,3],[1,0],[1,0],[1.5,1.5],[1,0],[7,3,2,3],[7,4],[1.5,1.5]]},"legend":null},"order":{"field":"h","type":"quantitative"}}},
{"data":{"name":"irf"},"transform":[{"filter":{"field":"block","equal":"SEE"}},{"filter":{"field":"series","oneOf":["RO","BG"]}}],"mark":{"type":"point","filled":false,"strokeWidth":1.4,"opacity":1},"encoding":{"x":{"field":"Stock","type":"quantitative","scale":{"domain":[-0.23,0.37],"reverse":true,"nice":false,"zero":false},"axis":{"orient":"top","values":[-0.2,0,0.2],"labels":false,"tickSize":-4,"title":null}},"y":{"field":"h","type":"quantitative","scale":{"domain":[1,16],"nice":false,"zero":false},"axis":{"orient":"left","values":[2,4,6,8,10,12,14,16],"labels":false,"tickSize":-4,"title":null}},"color":{"field":"series","type":"nominal","scale":{"domain":["SE","NO","SW","DK","CZ","PO","HU","RO","BG"],"range":["#0000ff","#00ffff","#660066","#006666","#00ff00","#008000","#d98c00","#ff0000","#ff00ff"]},"legend":null},"shape":{"field":"series","type":"nominal","scale":{"domain":["SW","DK","PO","RO","BG"],"range":["M-1,0L1,0M0,-1L0,1","circle","triangle-left","M-1,0L1,0M0,-1L0,1M-0.7,-0.7L0.7,0.7M-0.7,0.7L0.7,-0.7","circle"]},"legend":null},"size":{"field":"series","type":"nominal","scale":{"domain":["SW","DK","PO","RO","BG"],"range":[70,45,60,90,40]},"legend":null}}},
{"data":{"values":[{}]},"mark":{"type":"rule","color":"#000","strokeWidth":1,"strokeDash":[5,3]},"encoding":{"x":{"datum":0,"type":"quantitative","scale":{"domain":[-0.23,0.37],"reverse":true,"nice":false,"zero":false},"axis":null}}}
]},
{"width":101,"height":420,"resolve":{"axis":{"x":"independent","y":"independent"}},"layer":[
{"data":{"name":"irf"},"transform":[{"filter":{"field":"block","equal":"SEE"}}],"mark":{"type":"line","strokeWidth":1.6},"encoding":{"x":{"field":"Liquidity","type":"quantitative","scale":{"domain":[-0.065,0.0122],"reverse":true,"nice":false,"zero":false},"axis":{"orient":"bottom","values":[-0.06,-0.04,-0.02,0],"format":"~g","labelExpr":"replace(datum.label,'−','-')","labelAngle":270,"labelAlign":"right","labelBaseline":"middle","labelPadding":12,"tickSize":-4,"labelFlush":false,"labelOverlap":false,"title":null}},"y":{"field":"h","type":"quantitative","scale":{"domain":[1,16],"nice":false,"zero":false},"axis":{"orient":"right","values":[2,4,6,8,10,12,14,16],"format":"d","labelAngle":270,"labelAlign":"center","labelBaseline":"top","labelPadding":13,"tickSize":-4,"labelFlush":false,"labelOverlap":false,"title":null}},"color":{"field":"series","type":"nominal","scale":{"domain":["SE","NO","SW","DK","CZ","PO","HU","RO","BG"],"range":["#0000ff","#00ffff","#660066","#006666","#00ff00","#008000","#d98c00","#ff0000","#ff00ff"]},"legend":null},"strokeDash":{"field":"series","type":"nominal","scale":{"domain":["SE","NO","SW","DK","CZ","PO","HU","RO","BG"],"range":[[1,0],[5,3],[1,0],[1,0],[1.5,1.5],[1,0],[7,3,2,3],[7,4],[1.5,1.5]]},"legend":null},"order":{"field":"h","type":"quantitative"}}},
{"data":{"name":"irf"},"transform":[{"filter":{"field":"block","equal":"SEE"}},{"filter":{"field":"series","oneOf":["RO","BG"]}}],"mark":{"type":"point","filled":false,"strokeWidth":1.4,"opacity":1},"encoding":{"x":{"field":"Liquidity","type":"quantitative","scale":{"domain":[-0.065,0.0122],"reverse":true,"nice":false,"zero":false},"axis":{"orient":"top","values":[-0.06,-0.04,-0.02,0],"labels":false,"tickSize":-4,"title":null}},"y":{"field":"h","type":"quantitative","scale":{"domain":[1,16],"nice":false,"zero":false},"axis":{"orient":"left","values":[2,4,6,8,10,12,14,16],"labels":false,"tickSize":-4,"title":null}},"color":{"field":"series","type":"nominal","scale":{"domain":["SE","NO","SW","DK","CZ","PO","HU","RO","BG"],"range":["#0000ff","#00ffff","#660066","#006666","#00ff00","#008000","#d98c00","#ff0000","#ff00ff"]},"legend":null},"shape":{"field":"series","type":"nominal","scale":{"domain":["SW","DK","PO","RO","BG"],"range":["M-1,0L1,0M0,-1L0,1","circle","triangle-left","M-1,0L1,0M0,-1L0,1M-0.7,-0.7L0.7,0.7M-0.7,0.7L0.7,-0.7","circle"]},"legend":null},"size":{"field":"series","type":"nominal","scale":{"domain":["SW","DK","PO","RO","BG"],"range":[70,45,60,90,40]},"legend":null}}},
{"data":{"values":[{}]},"mark":{"type":"rule","color":"#000","strokeWidth":1,"strokeDash":[5,3]},"encoding":{"x":{"datum":0,"type":"quantitative","scale":{"domain":[-0.065,0.0122],"reverse":true,"nice":false,"zero":false},"axis":null}}}
]},
{"width":101,"height":420,"resolve":{"axis":{"x":"independent","y":"independent"}},"layer":[
{"data":{"name":"irf"},"transform":[{"filter":{"field":"block","equal":"SEE"}}],"mark":{"type":"line","strokeWidth":1.6},"encoding":{"x":{"field":"Risk","type":"quantitative","scale":{"domain":[-1.1,0.875],"reverse":true,"nice":false,"zero":false},"axis":{"orient":"bottom","values":[-1,-0.5,0,0.5],"format":"~g","labelExpr":"replace(datum.label,'−','-')","labelAngle":270,"labelAlign":"right","labelBaseline":"middle","labelPadding":12,"tickSize":-4,"labelFlush":false,"labelOverlap":false,"title":null}},"y":{"field":"h","type":"quantitative","scale":{"domain":[1,16],"nice":false,"zero":false},"axis":{"orient":"right","values":[2,4,6,8,10,12,14,16],"format":"d","labelAngle":270,"labelAlign":"center","labelBaseline":"top","labelPadding":13,"tickSize":-4,"labelFlush":false,"labelOverlap":false,"title":null}},"color":{"field":"series","type":"nominal","scale":{"domain":["SE","NO","SW","DK","CZ","PO","HU","RO","BG"],"range":["#0000ff","#00ffff","#660066","#006666","#00ff00","#008000","#d98c00","#ff0000","#ff00ff"]},"legend":null},"strokeDash":{"field":"series","type":"nominal","scale":{"domain":["SE","NO","SW","DK","CZ","PO","HU","RO","BG"],"range":[[1,0],[5,3],[1,0],[1,0],[1.5,1.5],[1,0],[7,3,2,3],[7,4],[1.5,1.5]]},"legend":null},"order":{"field":"h","type":"quantitative"}}},
{"data":{"name":"irf"},"transform":[{"filter":{"field":"block","equal":"SEE"}},{"filter":{"field":"series","oneOf":["RO","BG"]}}],"mark":{"type":"point","filled":false,"strokeWidth":1.4,"opacity":1},"encoding":{"x":{"field":"Risk","type":"quantitative","scale":{"domain":[-1.1,0.875],"reverse":true,"nice":false,"zero":false},"axis":{"orient":"top","values":[-1,-0.5,0,0.5],"labels":false,"tickSize":-4,"title":null}},"y":{"field":"h","type":"quantitative","scale":{"domain":[1,16],"nice":false,"zero":false},"axis":{"orient":"left","values":[2,4,6,8,10,12,14,16],"labels":false,"tickSize":-4,"title":null}},"color":{"field":"series","type":"nominal","scale":{"domain":["SE","NO","SW","DK","CZ","PO","HU","RO","BG"],"range":["#0000ff","#00ffff","#660066","#006666","#00ff00","#008000","#d98c00","#ff0000","#ff00ff"]},"legend":null},"shape":{"field":"series","type":"nominal","scale":{"domain":["SW","DK","PO","RO","BG"],"range":["M-1,0L1,0M0,-1L0,1","circle","triangle-left","M-1,0L1,0M0,-1L0,1M-0.7,-0.7L0.7,0.7M-0.7,0.7L0.7,-0.7","circle"]},"legend":null},"size":{"field":"series","type":"nominal","scale":{"domain":["SW","DK","PO","RO","BG"],"range":[70,45,60,90,40]},"legend":null}}},
{"data":{"values":[{}]},"mark":{"type":"rule","color":"#000","strokeWidth":1,"strokeDash":[5,3]},"encoding":{"x":{"datum":0,"type":"quantitative","scale":{"domain":[-1.1,0.875],"reverse":true,"nice":false,"zero":false},"axis":null}}}
]},
{"width":23,"height":216,"data":{"name":"leg"},"transform":[{"filter":{"field":"block","equal":"SEE"}}],"encoding":{"y":{"field":"series","type":"nominal","scale":{"type":"point","domain":["BG","RO","HU"],"padding":0.5},"axis":null}},"layer":[
{"mark":{"type":"point","shape":"M0,-1L0,1","size":900,"strokeWidth":1.6,"yOffset":12,"filled":false,"opacity":1},"encoding":{"color":{"field":"series","type":"nominal","scale":{"domain":["SE","NO","SW","DK","CZ","PO","HU","RO","BG"],"range":["#0000ff","#00ffff","#660066","#006666","#00ff00","#008000","#d98c00","#ff0000","#ff00ff"]},"legend":null},"strokeDash":{"field":"series","type":"nominal","scale":{"domain":["SE","NO","SW","DK","CZ","PO","HU","RO","BG"],"range":[[1,0],[5,3],[1,0],[1,0],[1.5,1.5],[1,0],[7,3,2,3],[7,4],[1.5,1.5]]},"legend":null}}},
{"transform":[{"filter":{"field":"series","oneOf":["RO","BG"]}}],"mark":{"type":"point","filled":false,"strokeWidth":1.4,"yOffset":12,"opacity":1},"encoding":{"color":{"field":"series","type":"nominal","scale":{"domain":["SE","NO","SW","DK","CZ","PO","HU","RO","BG"],"range":["#0000ff","#00ffff","#660066","#006666","#00ff00","#008000","#d98c00","#ff0000","#ff00ff"]},"legend":null},"shape":{"field":"series","type":"nominal","scale":{"domain":["SW","DK","PO","RO","BG"],"range":["M-1,0L1,0M0,-1L0,1","circle","triangle-left","M-1,0L1,0M0,-1L0,1M-0.7,-0.7L0.7,0.7M-0.7,0.7L0.7,-0.7","circle"]},"legend":null},"size":{"field":"series","type":"nominal","scale":{"domain":["SW","DK","PO","RO","BG"],"range":[70,45,60,90,40]},"legend":null}}},
{"mark":{"type":"text","angle":270,"align":"left","baseline":"middle","yOffset":-8,"fontSize":12,"font":"Liberation Sans","color":"#000"},"encoding":{"text":{"field":"series","type":"nominal"}}}
]},
{"width":101,"height":420,"title":{"text":"CEE","orient":"left","anchor":"middle","frame":"group","offset":-20,"fontSize":16,"fontWeight":"bold","font":"Liberation Sans","color":"#000","baseline":"bottom"},"resolve":{"axis":{"x":"independent","y":"independent"}},"layer":[
{"data":{"name":"irf"},"transform":[{"filter":{"field":"block","equal":"CEE"}}],"mark":{"type":"line","strokeWidth":1.6},"encoding":{"x":{"field":"Output","type":"quantitative","scale":{"domain":[-0.265,0.265],"reverse":true,"nice":false,"zero":false},"axis":{"orient":"bottom","values":[-0.2,0,0.2],"format":"~g","labelExpr":"replace(datum.label,'−','-')","labelAngle":270,"labelAlign":"right","labelBaseline":"middle","labelPadding":12,"tickSize":-4,"labelFlush":false,"labelOverlap":false,"title":null}},"y":{"field":"h","type":"quantitative","scale":{"domain":[1,16],"nice":false,"zero":false},"axis":{"orient":"right","values":[2,4,6,8,10,12,14,16],"format":"d","labelAngle":270,"labelAlign":"center","labelBaseline":"top","labelPadding":13,"tickSize":-4,"labelFlush":false,"labelOverlap":false,"title":null}},"color":{"field":"series","type":"nominal","scale":{"domain":["SE","NO","SW","DK","CZ","PO","HU","RO","BG"],"range":["#0000ff","#00ffff","#660066","#006666","#00ff00","#008000","#d98c00","#ff0000","#ff00ff"]},"legend":null},"strokeDash":{"field":"series","type":"nominal","scale":{"domain":["SE","NO","SW","DK","CZ","PO","HU","RO","BG"],"range":[[1,0],[5,3],[1,0],[1,0],[1.5,1.5],[1,0],[7,3,2,3],[7,4],[1.5,1.5]]},"legend":null},"order":{"field":"h","type":"quantitative"}}},
{"data":{"name":"irf"},"transform":[{"filter":{"field":"block","equal":"CEE"}},{"filter":{"field":"series","oneOf":["PO"]}}],"mark":{"type":"point","filled":false,"strokeWidth":1.4,"opacity":1},"encoding":{"x":{"field":"Output","type":"quantitative","scale":{"domain":[-0.265,0.265],"reverse":true,"nice":false,"zero":false},"axis":{"orient":"top","values":[-0.2,0,0.2],"labels":false,"tickSize":-4,"title":null}},"y":{"field":"h","type":"quantitative","scale":{"domain":[1,16],"nice":false,"zero":false},"axis":{"orient":"left","values":[2,4,6,8,10,12,14,16],"labels":false,"tickSize":-4,"title":null}},"color":{"field":"series","type":"nominal","scale":{"domain":["SE","NO","SW","DK","CZ","PO","HU","RO","BG"],"range":["#0000ff","#00ffff","#660066","#006666","#00ff00","#008000","#d98c00","#ff0000","#ff00ff"]},"legend":null},"shape":{"field":"series","type":"nominal","scale":{"domain":["SW","DK","PO","RO","BG"],"range":["M-1,0L1,0M0,-1L0,1","circle","triangle-left","M-1,0L1,0M0,-1L0,1M-0.7,-0.7L0.7,0.7M-0.7,0.7L0.7,-0.7","circle"]},"legend":null},"size":{"field":"series","type":"nominal","scale":{"domain":["SW","DK","PO","RO","BG"],"range":[70,45,60,90,40]},"legend":null}}},
{"data":{"values":[{}]},"mark":{"type":"rule","color":"#000","strokeWidth":1,"strokeDash":[5,3]},"encoding":{"x":{"datum":0,"type":"quantitative","scale":{"domain":[-0.265,0.265],"reverse":true,"nice":false,"zero":false},"axis":null}}}
]},
{"width":101,"height":420,"resolve":{"axis":{"x":"independent","y":"independent"}},"layer":[
{"data":{"name":"irf"},"transform":[{"filter":{"field":"block","equal":"CEE"}}],"mark":{"type":"line","strokeWidth":1.6},"encoding":{"x":{"field":"Inflation","type":"quantitative","scale":{"domain":[-0.221,0.188],"reverse":true,"nice":false,"zero":false},"axis":{"orient":"bottom","values":[-0.2,-0.1,0,0.1],"format":"~g","labelExpr":"replace(datum.label,'−','-')","labelAngle":270,"labelAlign":"right","labelBaseline":"middle","labelPadding":12,"tickSize":-4,"labelFlush":false,"labelOverlap":false,"title":null}},"y":{"field":"h","type":"quantitative","scale":{"domain":[1,16],"nice":false,"zero":false},"axis":{"orient":"right","values":[2,4,6,8,10,12,14,16],"format":"d","labelAngle":270,"labelAlign":"center","labelBaseline":"top","labelPadding":13,"tickSize":-4,"labelFlush":false,"labelOverlap":false,"title":null}},"color":{"field":"series","type":"nominal","scale":{"domain":["SE","NO","SW","DK","CZ","PO","HU","RO","BG"],"range":["#0000ff","#00ffff","#660066","#006666","#00ff00","#008000","#d98c00","#ff0000","#ff00ff"]},"legend":null},"strokeDash":{"field":"series","type":"nominal","scale":{"domain":["SE","NO","SW","DK","CZ","PO","HU","RO","BG"],"range":[[1,0],[5,3],[1,0],[1,0],[1.5,1.5],[1,0],[7,3,2,3],[7,4],[1.5,1.5]]},"legend":null},"order":{"field":"h","type":"quantitative"}}},
{"data":{"name":"irf"},"transform":[{"filter":{"field":"block","equal":"CEE"}},{"filter":{"field":"series","oneOf":["PO"]}}],"mark":{"type":"point","filled":false,"strokeWidth":1.4,"opacity":1},"encoding":{"x":{"field":"Inflation","type":"quantitative","scale":{"domain":[-0.221,0.188],"reverse":true,"nice":false,"zero":false},"axis":{"orient":"top","values":[-0.2,-0.1,0,0.1],"labels":false,"tickSize":-4,"title":null}},"y":{"field":"h","type":"quantitative","scale":{"domain":[1,16],"nice":false,"zero":false},"axis":{"orient":"left","values":[2,4,6,8,10,12,14,16],"labels":false,"tickSize":-4,"title":null}},"color":{"field":"series","type":"nominal","scale":{"domain":["SE","NO","SW","DK","CZ","PO","HU","RO","BG"],"range":["#0000ff","#00ffff","#660066","#006666","#00ff00","#008000","#d98c00","#ff0000","#ff00ff"]},"legend":null},"shape":{"field":"series","type":"nominal","scale":{"domain":["SW","DK","PO","RO","BG"],"range":["M-1,0L1,0M0,-1L0,1","circle","triangle-left","M-1,0L1,0M0,-1L0,1M-0.7,-0.7L0.7,0.7M-0.7,0.7L0.7,-0.7","circle"]},"legend":null},"size":{"field":"series","type":"nominal","scale":{"domain":["SW","DK","PO","RO","BG"],"range":[70,45,60,90,40]},"legend":null}}},
{"data":{"values":[{}]},"mark":{"type":"rule","color":"#000","strokeWidth":1,"strokeDash":[5,3]},"encoding":{"x":{"datum":0,"type":"quantitative","scale":{"domain":[-0.221,0.188],"reverse":true,"nice":false,"zero":false},"axis":null}}}
]},
{"width":101,"height":420,"resolve":{"axis":{"x":"independent","y":"independent"}},"layer":[
{"data":{"name":"irf"},"transform":[{"filter":{"field":"block","equal":"CEE"}}],"mark":{"type":"line","strokeWidth":1.6},"encoding":{"x":{"field":"Exchange","type":"quantitative","scale":{"domain":[-0.18,0.007],"reverse":true,"nice":false,"zero":false},"axis":{"orient":"bottom","values":[-0.15,-0.1,-0.05,0],"format":"~g","labelExpr":"replace(datum.label,'−','-')","labelAngle":270,"labelAlign":"right","labelBaseline":"middle","labelPadding":12,"tickSize":-4,"labelFlush":false,"labelOverlap":false,"title":null}},"y":{"field":"h","type":"quantitative","scale":{"domain":[1,16],"nice":false,"zero":false},"axis":{"orient":"right","values":[2,4,6,8,10,12,14,16],"format":"d","labelAngle":270,"labelAlign":"center","labelBaseline":"top","labelPadding":13,"tickSize":-4,"labelFlush":false,"labelOverlap":false,"title":null}},"color":{"field":"series","type":"nominal","scale":{"domain":["SE","NO","SW","DK","CZ","PO","HU","RO","BG"],"range":["#0000ff","#00ffff","#660066","#006666","#00ff00","#008000","#d98c00","#ff0000","#ff00ff"]},"legend":null},"strokeDash":{"field":"series","type":"nominal","scale":{"domain":["SE","NO","SW","DK","CZ","PO","HU","RO","BG"],"range":[[1,0],[5,3],[1,0],[1,0],[1.5,1.5],[1,0],[7,3,2,3],[7,4],[1.5,1.5]]},"legend":null},"order":{"field":"h","type":"quantitative"}}},
{"data":{"name":"irf"},"transform":[{"filter":{"field":"block","equal":"CEE"}},{"filter":{"field":"series","oneOf":["PO"]}}],"mark":{"type":"point","filled":false,"strokeWidth":1.4,"opacity":1},"encoding":{"x":{"field":"Exchange","type":"quantitative","scale":{"domain":[-0.18,0.007],"reverse":true,"nice":false,"zero":false},"axis":{"orient":"top","values":[-0.15,-0.1,-0.05,0],"labels":false,"tickSize":-4,"title":null}},"y":{"field":"h","type":"quantitative","scale":{"domain":[1,16],"nice":false,"zero":false},"axis":{"orient":"left","values":[2,4,6,8,10,12,14,16],"labels":false,"tickSize":-4,"title":null}},"color":{"field":"series","type":"nominal","scale":{"domain":["SE","NO","SW","DK","CZ","PO","HU","RO","BG"],"range":["#0000ff","#00ffff","#660066","#006666","#00ff00","#008000","#d98c00","#ff0000","#ff00ff"]},"legend":null},"shape":{"field":"series","type":"nominal","scale":{"domain":["SW","DK","PO","RO","BG"],"range":["M-1,0L1,0M0,-1L0,1","circle","triangle-left","M-1,0L1,0M0,-1L0,1M-0.7,-0.7L0.7,0.7M-0.7,0.7L0.7,-0.7","circle"]},"legend":null},"size":{"field":"series","type":"nominal","scale":{"domain":["SW","DK","PO","RO","BG"],"range":[70,45,60,90,40]},"legend":null}}},
{"data":{"values":[{}]},"mark":{"type":"rule","color":"#000","strokeWidth":1,"strokeDash":[5,3]},"encoding":{"x":{"datum":0,"type":"quantitative","scale":{"domain":[-0.18,0.007],"reverse":true,"nice":false,"zero":false},"axis":null}}}
]},
{"width":101,"height":420,"resolve":{"axis":{"x":"independent","y":"independent"}},"layer":[
{"data":{"name":"irf"},"transform":[{"filter":{"field":"block","equal":"CEE"}}],"mark":{"type":"line","strokeWidth":1.6},"encoding":{"x":{"field":"Stock","type":"quantitative","scale":{"domain":[-0.225,0.143],"reverse":true,"nice":false,"zero":false},"axis":{"orient":"bottom","values":[-0.2,-0.1,0,0.1],"format":"~g","labelExpr":"replace(datum.label,'−','-')","labelAngle":270,"labelAlign":"right","labelBaseline":"middle","labelPadding":12,"tickSize":-4,"labelFlush":false,"labelOverlap":false,"title":null}},"y":{"field":"h","type":"quantitative","scale":{"domain":[1,16],"nice":false,"zero":false},"axis":{"orient":"right","values":[2,4,6,8,10,12,14,16],"format":"d","labelAngle":270,"labelAlign":"center","labelBaseline":"top","labelPadding":13,"tickSize":-4,"labelFlush":false,"labelOverlap":false,"title":null}},"color":{"field":"series","type":"nominal","scale":{"domain":["SE","NO","SW","DK","CZ","PO","HU","RO","BG"],"range":["#0000ff","#00ffff","#660066","#006666","#00ff00","#008000","#d98c00","#ff0000","#ff00ff"]},"legend":null},"strokeDash":{"field":"series","type":"nominal","scale":{"domain":["SE","NO","SW","DK","CZ","PO","HU","RO","BG"],"range":[[1,0],[5,3],[1,0],[1,0],[1.5,1.5],[1,0],[7,3,2,3],[7,4],[1.5,1.5]]},"legend":null},"order":{"field":"h","type":"quantitative"}}},
{"data":{"name":"irf"},"transform":[{"filter":{"field":"block","equal":"CEE"}},{"filter":{"field":"series","oneOf":["PO"]}}],"mark":{"type":"point","filled":false,"strokeWidth":1.4,"opacity":1},"encoding":{"x":{"field":"Stock","type":"quantitative","scale":{"domain":[-0.225,0.143],"reverse":true,"nice":false,"zero":false},"axis":{"orient":"top","values":[-0.2,-0.1,0,0.1],"labels":false,"tickSize":-4,"title":null}},"y":{"field":"h","type":"quantitative","scale":{"domain":[1,16],"nice":false,"zero":false},"axis":{"orient":"left","values":[2,4,6,8,10,12,14,16],"labels":false,"tickSize":-4,"title":null}},"color":{"field":"series","type":"nominal","scale":{"domain":["SE","NO","SW","DK","CZ","PO","HU","RO","BG"],"range":["#0000ff","#00ffff","#660066","#006666","#00ff00","#008000","#d98c00","#ff0000","#ff00ff"]},"legend":null},"shape":{"field":"series","type":"nominal","scale":{"domain":["SW","DK","PO","RO","BG"],"range":["M-1,0L1,0M0,-1L0,1","circle","triangle-left","M-1,0L1,0M0,-1L0,1M-0.7,-0.7L0.7,0.7M-0.7,0.7L0.7,-0.7","circle"]},"legend":null},"size":{"field":"series","type":"nominal","scale":{"domain":["SW","DK","PO","RO","BG"],"range":[70,45,60,90,40]},"legend":null}}},
{"data":{"values":[{}]},"mark":{"type":"rule","color":"#000","strokeWidth":1,"strokeDash":[5,3]},"encoding":{"x":{"datum":0,"type":"quantitative","scale":{"domain":[-0.225,0.143],"reverse":true,"nice":false,"zero":false},"axis":null}}}
]},
{"width":101,"height":420,"resolve":{"axis":{"x":"independent","y":"independent"}},"layer":[
{"data":{"name":"irf"},"transform":[{"filter":{"field":"block","equal":"CEE"}}],"mark":{"type":"line","strokeWidth":1.6},"encoding":{"x":{"field":"Liquidity","type":"quantitative","scale":{"domain":[-0.0363,0.0135],"reverse":true,"nice":false,"zero":false},"axis":{"orient":"bottom","values":[-0.03,-0.02,-0.01,0,0.01],"format":"~g","labelExpr":"replace(datum.label,'−','-')","labelAngle":270,"labelAlign":"right","labelBaseline":"middle","labelPadding":12,"tickSize":-4,"labelFlush":false,"labelOverlap":false,"title":null}},"y":{"field":"h","type":"quantitative","scale":{"domain":[1,16],"nice":false,"zero":false},"axis":{"orient":"right","values":[2,4,6,8,10,12,14,16],"format":"d","labelAngle":270,"labelAlign":"center","labelBaseline":"top","labelPadding":13,"tickSize":-4,"labelFlush":false,"labelOverlap":false,"title":null}},"color":{"field":"series","type":"nominal","scale":{"domain":["SE","NO","SW","DK","CZ","PO","HU","RO","BG"],"range":["#0000ff","#00ffff","#660066","#006666","#00ff00","#008000","#d98c00","#ff0000","#ff00ff"]},"legend":null},"strokeDash":{"field":"series","type":"nominal","scale":{"domain":["SE","NO","SW","DK","CZ","PO","HU","RO","BG"],"range":[[1,0],[5,3],[1,0],[1,0],[1.5,1.5],[1,0],[7,3,2,3],[7,4],[1.5,1.5]]},"legend":null},"order":{"field":"h","type":"quantitative"}}},
{"data":{"name":"irf"},"transform":[{"filter":{"field":"block","equal":"CEE"}},{"filter":{"field":"series","oneOf":["PO"]}}],"mark":{"type":"point","filled":false,"strokeWidth":1.4,"opacity":1},"encoding":{"x":{"field":"Liquidity","type":"quantitative","scale":{"domain":[-0.0363,0.0135],"reverse":true,"nice":false,"zero":false},"axis":{"orient":"top","values":[-0.03,-0.02,-0.01,0,0.01],"labels":false,"tickSize":-4,"title":null}},"y":{"field":"h","type":"quantitative","scale":{"domain":[1,16],"nice":false,"zero":false},"axis":{"orient":"left","values":[2,4,6,8,10,12,14,16],"labels":false,"tickSize":-4,"title":null}},"color":{"field":"series","type":"nominal","scale":{"domain":["SE","NO","SW","DK","CZ","PO","HU","RO","BG"],"range":["#0000ff","#00ffff","#660066","#006666","#00ff00","#008000","#d98c00","#ff0000","#ff00ff"]},"legend":null},"shape":{"field":"series","type":"nominal","scale":{"domain":["SW","DK","PO","RO","BG"],"range":["M-1,0L1,0M0,-1L0,1","circle","triangle-left","M-1,0L1,0M0,-1L0,1M-0.7,-0.7L0.7,0.7M-0.7,0.7L0.7,-0.7","circle"]},"legend":null},"size":{"field":"series","type":"nominal","scale":{"domain":["SW","DK","PO","RO","BG"],"range":[70,45,60,90,40]},"legend":null}}},
{"data":{"values":[{}]},"mark":{"type":"rule","color":"#000","strokeWidth":1,"strokeDash":[5,3]},"encoding":{"x":{"datum":0,"type":"quantitative","scale":{"domain":[-0.0363,0.0135],"reverse":true,"nice":false,"zero":false},"axis":null}}}
]},
{"width":101,"height":420,"resolve":{"axis":{"x":"independent","y":"independent"}},"layer":[
{"data":{"name":"irf"},"transform":[{"filter":{"field":"block","equal":"CEE"}}],"mark":{"type":"line","strokeWidth":1.6},"encoding":{"x":{"field":"Risk","type":"quantitative","scale":{"domain":[-2.4,0.197],"reverse":true,"nice":false,"zero":false},"axis":{"orient":"bottom","values":[-2,-1,0],"format":"~g","labelExpr":"replace(datum.label,'−','-')","labelAngle":270,"labelAlign":"right","labelBaseline":"middle","labelPadding":12,"tickSize":-4,"labelFlush":false,"labelOverlap":false,"title":null}},"y":{"field":"h","type":"quantitative","scale":{"domain":[1,16],"nice":false,"zero":false},"axis":{"orient":"right","values":[2,4,6,8,10,12,14,16],"format":"d","labelAngle":270,"labelAlign":"center","labelBaseline":"top","labelPadding":13,"tickSize":-4,"labelFlush":false,"labelOverlap":false,"title":null}},"color":{"field":"series","type":"nominal","scale":{"domain":["SE","NO","SW","DK","CZ","PO","HU","RO","BG"],"range":["#0000ff","#00ffff","#660066","#006666","#00ff00","#008000","#d98c00","#ff0000","#ff00ff"]},"legend":null},"strokeDash":{"field":"series","type":"nominal","scale":{"domain":["SE","NO","SW","DK","CZ","PO","HU","RO","BG"],"range":[[1,0],[5,3],[1,0],[1,0],[1.5,1.5],[1,0],[7,3,2,3],[7,4],[1.5,1.5]]},"legend":null},"order":{"field":"h","type":"quantitative"}}},
{"data":{"name":"irf"},"transform":[{"filter":{"field":"block","equal":"CEE"}},{"filter":{"field":"series","oneOf":["PO"]}}],"mark":{"type":"point","filled":false,"strokeWidth":1.4,"opacity":1},"encoding":{"x":{"field":"Risk","type":"quantitative","scale":{"domain":[-2.4,0.197],"reverse":true,"nice":false,"zero":false},"axis":{"orient":"top","values":[-2,-1,0],"labels":false,"tickSize":-4,"title":null}},"y":{"field":"h","type":"quantitative","scale":{"domain":[1,16],"nice":false,"zero":false},"axis":{"orient":"left","values":[2,4,6,8,10,12,14,16],"labels":false,"tickSize":-4,"title":null}},"color":{"field":"series","type":"nominal","scale":{"domain":["SE","NO","SW","DK","CZ","PO","HU","RO","BG"],"range":["#0000ff","#00ffff","#660066","#006666","#00ff00","#008000","#d98c00","#ff0000","#ff00ff"]},"legend":null},"shape":{"field":"series","type":"nominal","scale":{"domain":["SW","DK","PO","RO","BG"],"range":["M-1,0L1,0M0,-1L0,1","circle","triangle-left","M-1,0L1,0M0,-1L0,1M-0.7,-0.7L0.7,0.7M-0.7,0.7L0.7,-0.7","circle"]},"legend":null},"size":{"field":"series","type":"nominal","scale":{"domain":["SW","DK","PO","RO","BG"],"range":[70,45,60,90,40]},"legend":null}}},
{"data":{"values":[{}]},"mark":{"type":"rule","color":"#000","strokeWidth":1,"strokeDash":[5,3]},"encoding":{"x":{"datum":0,"type":"quantitative","scale":{"domain":[-2.4,0.197],"reverse":true,"nice":false,"zero":false},"axis":null}}}
]},
{"width":23,"height":143,"data":{"name":"leg"},"transform":[{"filter":{"field":"block","equal":"CEE"}}],"encoding":{"y":{"field":"series","type":"nominal","scale":{"type":"point","domain":["PO","CZ"],"padding":0.5},"axis":null}},"layer":[
{"mark":{"type":"point","shape":"M0,-1L0,1","size":900,"strokeWidth":1.6,"yOffset":12,"filled":false,"opacity":1},"encoding":{"color":{"field":"series","type":"nominal","scale":{"domain":["SE","NO","SW","DK","CZ","PO","HU","RO","BG"],"range":["#0000ff","#00ffff","#660066","#006666","#00ff00","#008000","#d98c00","#ff0000","#ff00ff"]},"legend":null},"strokeDash":{"field":"series","type":"nominal","scale":{"domain":["SE","NO","SW","DK","CZ","PO","HU","RO","BG"],"range":[[1,0],[5,3],[1,0],[1,0],[1.5,1.5],[1,0],[7,3,2,3],[7,4],[1.5,1.5]]},"legend":null}}},
{"transform":[{"filter":{"field":"series","oneOf":["PO"]}}],"mark":{"type":"point","filled":false,"strokeWidth":1.4,"yOffset":12,"opacity":1},"encoding":{"color":{"field":"series","type":"nominal","scale":{"domain":["SE","NO","SW","DK","CZ","PO","HU","RO","BG"],"range":["#0000ff","#00ffff","#660066","#006666","#00ff00","#008000","#d98c00","#ff0000","#ff00ff"]},"legend":null},"shape":{"field":"series","type":"nominal","scale":{"domain":["SW","DK","PO","RO","BG"],"range":["M-1,0L1,0M0,-1L0,1","circle","triangle-left","M-1,0L1,0M0,-1L0,1M-0.7,-0.7L0.7,0.7M-0.7,0.7L0.7,-0.7","circle"]},"legend":null},"size":{"field":"series","type":"nominal","scale":{"domain":["SW","DK","PO","RO","BG"],"range":[70,45,60,90,40]},"legend":null}}},
{"mark":{"type":"text","angle":270,"align":"left","baseline":"middle","yOffset":-8,"fontSize":12,"font":"Liberation Sans","color":"#000"},"encoding":{"text":{"field":"series","type":"nominal"}}}
]},
{"width":101,"height":420,"title":{"text":"Advanced","orient":"left","anchor":"middle","frame":"group","offset":-20,"fontSize":16,"fontWeight":"bold","font":"Liberation Sans","color":"#000","baseline":"bottom"},"resolve":{"axis":{"x":"independent","y":"independent"}},"layer":[
{"data":{"name":"irf"},"transform":[{"filter":{"field":"block","equal":"Advanced"}}],"mark":{"type":"line","strokeWidth":1.6},"encoding":{"x":{"field":"Output","type":"quantitative","scale":{"domain":[-0.307,0.377],"reverse":true,"nice":false,"zero":false},"axis":{"orient":"bottom","values":[-0.2,0,0.2],"format":"~g","labelExpr":"replace(datum.label,'−','-')","labelAngle":270,"labelAlign":"right","labelBaseline":"middle","labelPadding":12,"tickSize":-4,"labelFlush":false,"labelOverlap":false,"title":"Output","titleAngle":270,"titleAlign":"center","titleBaseline":"bottom","titleY":147,"titleFontSize":16,"titleFontWeight":"bold","titleFont":"Liberation Sans","titleColor":"#000"}},"y":{"field":"h","type":"quantitative","scale":{"domain":[1,16],"nice":false,"zero":false},"axis":{"orient":"right","values":[2,4,6,8,10,12,14,16],"format":"d","labelAngle":270,"labelAlign":"center","labelBaseline":"top","labelPadding":13,"tickSize":-4,"labelFlush":false,"labelOverlap":false,"title":null}},"color":{"field":"series","type":"nominal","scale":{"domain":["SE","NO","SW","DK","CZ","PO","HU","RO","BG"],"range":["#0000ff","#00ffff","#660066","#006666","#00ff00","#008000","#d98c00","#ff0000","#ff00ff"]},"legend":null},"strokeDash":{"field":"series","type":"nominal","scale":{"domain":["SE","NO","SW","DK","CZ","PO","HU","RO","BG"],"range":[[1,0],[5,3],[1,0],[1,0],[1.5,1.5],[1,0],[7,3,2,3],[7,4],[1.5,1.5]]},"legend":null},"order":{"field":"h","type":"quantitative"}}},
{"data":{"name":"irf"},"transform":[{"filter":{"field":"block","equal":"Advanced"}},{"filter":{"field":"series","oneOf":["SW","DK"]}}],"mark":{"type":"point","filled":false,"strokeWidth":1.4,"opacity":1},"encoding":{"x":{"field":"Output","type":"quantitative","scale":{"domain":[-0.307,0.377],"reverse":true,"nice":false,"zero":false},"axis":{"orient":"top","values":[-0.2,0,0.2],"labels":false,"tickSize":-4,"title":null}},"y":{"field":"h","type":"quantitative","scale":{"domain":[1,16],"nice":false,"zero":false},"axis":{"orient":"left","values":[2,4,6,8,10,12,14,16],"labels":false,"tickSize":-4,"title":null}},"color":{"field":"series","type":"nominal","scale":{"domain":["SE","NO","SW","DK","CZ","PO","HU","RO","BG"],"range":["#0000ff","#00ffff","#660066","#006666","#00ff00","#008000","#d98c00","#ff0000","#ff00ff"]},"legend":null},"shape":{"field":"series","type":"nominal","scale":{"domain":["SW","DK","PO","RO","BG"],"range":["M-1,0L1,0M0,-1L0,1","circle","triangle-left","M-1,0L1,0M0,-1L0,1M-0.7,-0.7L0.7,0.7M-0.7,0.7L0.7,-0.7","circle"]},"legend":null},"size":{"field":"series","type":"nominal","scale":{"domain":["SW","DK","PO","RO","BG"],"range":[70,45,60,90,40]},"legend":null}}},
{"data":{"values":[{}]},"mark":{"type":"rule","color":"#000","strokeWidth":1,"strokeDash":[5,3]},"encoding":{"x":{"datum":0,"type":"quantitative","scale":{"domain":[-0.307,0.377],"reverse":true,"nice":false,"zero":false},"axis":null}}}
]},
{"width":101,"height":420,"resolve":{"axis":{"x":"independent","y":"independent"}},"layer":[
{"data":{"name":"irf"},"transform":[{"filter":{"field":"block","equal":"Advanced"}}],"mark":{"type":"line","strokeWidth":1.6},"encoding":{"x":{"field":"Inflation","type":"quantitative","scale":{"domain":[-0.161,0.431],"reverse":true,"nice":false,"zero":false},"axis":{"orient":"bottom","values":[0,0.2,0.4],"format":"~g","labelExpr":"replace(datum.label,'−','-')","labelAngle":270,"labelAlign":"right","labelBaseline":"middle","labelPadding":12,"tickSize":-4,"labelFlush":false,"labelOverlap":false,"title":"Inflation","titleAngle":270,"titleAlign":"center","titleBaseline":"bottom","titleY":147,"titleFontSize":16,"titleFontWeight":"bold","titleFont":"Liberation Sans","titleColor":"#000"}},"y":{"field":"h","type":"quantitative","scale":{"domain":[1,16],"nice":false,"zero":false},"axis":{"orient":"right","values":[2,4,6,8,10,12,14,16],"format":"d","labelAngle":270,"labelAlign":"center","labelBaseline":"top","labelPadding":13,"tickSize":-4,"labelFlush":false,"labelOverlap":false,"title":null}},"color":{"field":"series","type":"nominal","scale":{"domain":["SE","NO","SW","DK","CZ","PO","HU","RO","BG"],"range":["#0000ff","#00ffff","#660066","#006666","#00ff00","#008000","#d98c00","#ff0000","#ff00ff"]},"legend":null},"strokeDash":{"field":"series","type":"nominal","scale":{"domain":["SE","NO","SW","DK","CZ","PO","HU","RO","BG"],"range":[[1,0],[5,3],[1,0],[1,0],[1.5,1.5],[1,0],[7,3,2,3],[7,4],[1.5,1.5]]},"legend":null},"order":{"field":"h","type":"quantitative"}}},
{"data":{"name":"irf"},"transform":[{"filter":{"field":"block","equal":"Advanced"}},{"filter":{"field":"series","oneOf":["SW","DK"]}}],"mark":{"type":"point","filled":false,"strokeWidth":1.4,"opacity":1},"encoding":{"x":{"field":"Inflation","type":"quantitative","scale":{"domain":[-0.161,0.431],"reverse":true,"nice":false,"zero":false},"axis":{"orient":"top","values":[0,0.2,0.4],"labels":false,"tickSize":-4,"title":null}},"y":{"field":"h","type":"quantitative","scale":{"domain":[1,16],"nice":false,"zero":false},"axis":{"orient":"left","values":[2,4,6,8,10,12,14,16],"labels":false,"tickSize":-4,"title":null}},"color":{"field":"series","type":"nominal","scale":{"domain":["SE","NO","SW","DK","CZ","PO","HU","RO","BG"],"range":["#0000ff","#00ffff","#660066","#006666","#00ff00","#008000","#d98c00","#ff0000","#ff00ff"]},"legend":null},"shape":{"field":"series","type":"nominal","scale":{"domain":["SW","DK","PO","RO","BG"],"range":["M-1,0L1,0M0,-1L0,1","circle","triangle-left","M-1,0L1,0M0,-1L0,1M-0.7,-0.7L0.7,0.7M-0.7,0.7L0.7,-0.7","circle"]},"legend":null},"size":{"field":"series","type":"nominal","scale":{"domain":["SW","DK","PO","RO","BG"],"range":[70,45,60,90,40]},"legend":null}}},
{"data":{"values":[{}]},"mark":{"type":"rule","color":"#000","strokeWidth":1,"strokeDash":[5,3]},"encoding":{"x":{"datum":0,"type":"quantitative","scale":{"domain":[-0.161,0.431],"reverse":true,"nice":false,"zero":false},"axis":null}}}
]},
{"width":101,"height":420,"resolve":{"axis":{"x":"independent","y":"independent"}},"layer":[
{"data":{"name":"irf"},"transform":[{"filter":{"field":"block","equal":"Advanced"}}],"mark":{"type":"line","strokeWidth":1.6},"encoding":{"x":{"field":"Exchange","type":"quantitative","scale":{"domain":[-0.1245,0.103],"reverse":true,"nice":false,"zero":false},"axis":{"orient":"bottom","values":[-0.1,-0.05,0,0.05],"format":"~g","labelExpr":"replace(datum.label,'−','-')","labelAngle":270,"labelAlign":"right","labelBaseline":"middle","labelPadding":12,"tickSize":-4,"labelFlush":false,"labelOverlap":false,"title":"Exchange Rate","titleAngle":270,"titleAlign":"center","titleBaseline":"bottom","titleY":147,"titleFontSize":16,"titleFontWeight":"bold","titleFont":"Liberation Sans","titleColor":"#000"}},"y":{"field":"h","type":"quantitative","scale":{"domain":[1,16],"nice":false,"zero":false},"axis":{"orient":"right","values":[2,4,6,8,10,12,14,16],"format":"d","labelAngle":270,"labelAlign":"center","labelBaseline":"top","labelPadding":13,"tickSize":-4,"labelFlush":false,"labelOverlap":false,"title":null}},"color":{"field":"series","type":"nominal","scale":{"domain":["SE","NO","SW","DK","CZ","PO","HU","RO","BG"],"range":["#0000ff","#00ffff","#660066","#006666","#00ff00","#008000","#d98c00","#ff0000","#ff00ff"]},"legend":null},"strokeDash":{"field":"series","type":"nominal","scale":{"domain":["SE","NO","SW","DK","CZ","PO","HU","RO","BG"],"range":[[1,0],[5,3],[1,0],[1,0],[1.5,1.5],[1,0],[7,3,2,3],[7,4],[1.5,1.5]]},"legend":null},"order":{"field":"h","type":"quantitative"}}},
{"data":{"name":"irf"},"transform":[{"filter":{"field":"block","equal":"Advanced"}},{"filter":{"field":"series","oneOf":["SW","DK"]}}],"mark":{"type":"point","filled":false,"strokeWidth":1.4,"opacity":1},"encoding":{"x":{"field":"Exchange","type":"quantitative","scale":{"domain":[-0.1245,0.103],"reverse":true,"nice":false,"zero":false},"axis":{"orient":"top","values":[-0.1,-0.05,0,0.05],"labels":false,"tickSize":-4,"title":null}},"y":{"field":"h","type":"quantitative","scale":{"domain":[1,16],"nice":false,"zero":false},"axis":{"orient":"left","values":[2,4,6,8,10,12,14,16],"labels":false,"tickSize":-4,"title":null}},"color":{"field":"series","type":"nominal","scale":{"domain":["SE","NO","SW","DK","CZ","PO","HU","RO","BG"],"range":["#0000ff","#00ffff","#660066","#006666","#00ff00","#008000","#d98c00","#ff0000","#ff00ff"]},"legend":null},"shape":{"field":"series","type":"nominal","scale":{"domain":["SW","DK","PO","RO","BG"],"range":["M-1,0L1,0M0,-1L0,1","circle","triangle-left","M-1,0L1,0M0,-1L0,1M-0.7,-0.7L0.7,0.7M-0.7,0.7L0.7,-0.7","circle"]},"legend":null},"size":{"field":"series","type":"nominal","scale":{"domain":["SW","DK","PO","RO","BG"],"range":[70,45,60,90,40]},"legend":null}}},
{"data":{"values":[{}]},"mark":{"type":"rule","color":"#000","strokeWidth":1,"strokeDash":[5,3]},"encoding":{"x":{"datum":0,"type":"quantitative","scale":{"domain":[-0.1245,0.103],"reverse":true,"nice":false,"zero":false},"axis":null}}}
]},
{"width":101,"height":420,"resolve":{"axis":{"x":"independent","y":"independent"}},"layer":[
{"data":{"name":"irf"},"transform":[{"filter":{"field":"block","equal":"Advanced"}}],"mark":{"type":"line","strokeWidth":1.6},"encoding":{"x":{"field":"Stock","type":"quantitative","scale":{"domain":[-0.251,0.188],"reverse":true,"nice":false,"zero":false},"axis":{"orient":"bottom","values":[-0.2,-0.1,0,0.1],"format":"~g","labelExpr":"replace(datum.label,'−','-')","labelAngle":270,"labelAlign":"right","labelBaseline":"middle","labelPadding":12,"tickSize":-4,"labelFlush":false,"labelOverlap":false,"title":"Stock Prices","titleAngle":270,"titleAlign":"center","titleBaseline":"bottom","titleY":147,"titleFontSize":16,"titleFontWeight":"bold","titleFont":"Liberation Sans","titleColor":"#000"}},"y":{"field":"h","type":"quantitative","scale":{"domain":[1,16],"nice":false,"zero":false},"axis":{"orient":"right","values":[2,4,6,8,10,12,14,16],"format":"d","labelAngle":270,"labelAlign":"center","labelBaseline":"top","labelPadding":13,"tickSize":-4,"labelFlush":false,"labelOverlap":false,"title":null}},"color":{"field":"series","type":"nominal","scale":{"domain":["SE","NO","SW","DK","CZ","PO","HU","RO","BG"],"range":["#0000ff","#00ffff","#660066","#006666","#00ff00","#008000","#d98c00","#ff0000","#ff00ff"]},"legend":null},"strokeDash":{"field":"series","type":"nominal","scale":{"domain":["SE","NO","SW","DK","CZ","PO","HU","RO","BG"],"range":[[1,0],[5,3],[1,0],[1,0],[1.5,1.5],[1,0],[7,3,2,3],[7,4],[1.5,1.5]]},"legend":null},"order":{"field":"h","type":"quantitative"}}},
{"data":{"name":"irf"},"transform":[{"filter":{"field":"block","equal":"Advanced"}},{"filter":{"field":"series","oneOf":["SW","DK"]}}],"mark":{"type":"point","filled":false,"strokeWidth":1.4,"opacity":1},"encoding":{"x":{"field":"Stock","type":"quantitative","scale":{"domain":[-0.251,0.188],"reverse":true,"nice":false,"zero":false},"axis":{"orient":"top","values":[-0.2,-0.1,0,0.1],"labels":false,"tickSize":-4,"title":null}},"y":{"field":"h","type":"quantitative","scale":{"domain":[1,16],"nice":false,"zero":false},"axis":{"orient":"left","values":[2,4,6,8,10,12,14,16],"labels":false,"tickSize":-4,"title":null}},"color":{"field":"series","type":"nominal","scale":{"domain":["SE","NO","SW","DK","CZ","PO","HU","RO","BG"],"range":["#0000ff","#00ffff","#660066","#006666","#00ff00","#008000","#d98c00","#ff0000","#ff00ff"]},"legend":null},"shape":{"field":"series","type":"nominal","scale":{"domain":["SW","DK","PO","RO","BG"],"range":["M-1,0L1,0M0,-1L0,1","circle","triangle-left","M-1,0L1,0M0,-1L0,1M-0.7,-0.7L0.7,0.7M-0.7,0.7L0.7,-0.7","circle"]},"legend":null},"size":{"field":"series","type":"nominal","scale":{"domain":["SW","DK","PO","RO","BG"],"range":[70,45,60,90,40]},"legend":null}}},
{"data":{"values":[{}]},"mark":{"type":"rule","color":"#000","strokeWidth":1,"strokeDash":[5,3]},"encoding":{"x":{"datum":0,"type":"quantitative","scale":{"domain":[-0.251,0.188],"reverse":true,"nice":false,"zero":false},"axis":null}}}
]},
{"width":101,"height":420,"resolve":{"axis":{"x":"independent","y":"independent"}},"layer":[
{"data":{"name":"irf"},"transform":[{"filter":{"field":"block","equal":"Advanced"}}],"mark":{"type":"line","strokeWidth":1.6},"encoding":{"x":{"field":"Liquidity","type":"quantitative","scale":{"domain":[-0.0124,0.0114],"reverse":true,"nice":false,"zero":false},"axis":{"orient":"bottom","values":[-0.01,0,0.01],"format":"~g","labelExpr":"replace(datum.label,'−','-')","labelAngle":270,"labelAlign":"right","labelBaseline":"middle","labelPadding":12,"tickSize":-4,"labelFlush":false,"labelOverlap":false,"title":"Liquidity","titleAngle":270,"titleAlign":"center","titleBaseline":"bottom","titleY":147,"titleFontSize":16,"titleFontWeight":"bold","titleFont":"Liberation Sans","titleColor":"#000"}},"y":{"field":"h","type":"quantitative","scale":{"domain":[1,16],"nice":false,"zero":false},"axis":{"orient":"right","values":[2,4,6,8,10,12,14,16],"format":"d","labelAngle":270,"labelAlign":"center","labelBaseline":"top","labelPadding":13,"tickSize":-4,"labelFlush":false,"labelOverlap":false,"title":null}},"color":{"field":"series","type":"nominal","scale":{"domain":["SE","NO","SW","DK","CZ","PO","HU","RO","BG"],"range":["#0000ff","#00ffff","#660066","#006666","#00ff00","#008000","#d98c00","#ff0000","#ff00ff"]},"legend":null},"strokeDash":{"field":"series","type":"nominal","scale":{"domain":["SE","NO","SW","DK","CZ","PO","HU","RO","BG"],"range":[[1,0],[5,3],[1,0],[1,0],[1.5,1.5],[1,0],[7,3,2,3],[7,4],[1.5,1.5]]},"legend":null},"order":{"field":"h","type":"quantitative"}}},
{"data":{"name":"irf"},"transform":[{"filter":{"field":"block","equal":"Advanced"}},{"filter":{"field":"series","oneOf":["SW","DK"]}}],"mark":{"type":"point","filled":false,"strokeWidth":1.4,"opacity":1},"encoding":{"x":{"field":"Liquidity","type":"quantitative","scale":{"domain":[-0.0124,0.0114],"reverse":true,"nice":false,"zero":false},"axis":{"orient":"top","values":[-0.01,0,0.01],"labels":false,"tickSize":-4,"title":null}},"y":{"field":"h","type":"quantitative","scale":{"domain":[1,16],"nice":false,"zero":false},"axis":{"orient":"left","values":[2,4,6,8,10,12,14,16],"labels":false,"tickSize":-4,"title":null}},"color":{"field":"series","type":"nominal","scale":{"domain":["SE","NO","SW","DK","CZ","PO","HU","RO","BG"],"range":["#0000ff","#00ffff","#660066","#006666","#00ff00","#008000","#d98c00","#ff0000","#ff00ff"]},"legend":null},"shape":{"field":"series","type":"nominal","scale":{"domain":["SW","DK","PO","RO","BG"],"range":["M-1,0L1,0M0,-1L0,1","circle","triangle-left","M-1,0L1,0M0,-1L0,1M-0.7,-0.7L0.7,0.7M-0.7,0.7L0.7,-0.7","circle"]},"legend":null},"size":{"field":"series","type":"nominal","scale":{"domain":["SW","DK","PO","RO","BG"],"range":[70,45,60,90,40]},"legend":null}}},
{"data":{"values":[{}]},"mark":{"type":"rule","color":"#000","strokeWidth":1,"strokeDash":[5,3]},"encoding":{"x":{"datum":0,"type":"quantitative","scale":{"domain":[-0.0124,0.0114],"reverse":true,"nice":false,"zero":false},"axis":null}}}
]},
{"width":101,"height":420,"resolve":{"axis":{"x":"independent","y":"independent"}},"layer":[
{"data":{"name":"irf"},"transform":[{"filter":{"field":"block","equal":"Advanced"}}],"mark":{"type":"line","strokeWidth":1.6},"encoding":{"x":{"field":"Risk","type":"quantitative","scale":{"domain":[-0.76,1.96],"reverse":true,"nice":false,"zero":false},"axis":{"orient":"bottom","values":[-0.5,0,0.5,1,1.5],"format":"~g","labelExpr":"replace(datum.label,'−','-')","labelAngle":270,"labelAlign":"right","labelBaseline":"middle","labelPadding":12,"tickSize":-4,"labelFlush":false,"labelOverlap":false,"title":"Risk (CDS)","titleAngle":270,"titleAlign":"center","titleBaseline":"bottom","titleY":147,"titleFontSize":16,"titleFontWeight":"bold","titleFont":"Liberation Sans","titleColor":"#000"}},"y":{"field":"h","type":"quantitative","scale":{"domain":[1,16],"nice":false,"zero":false},"axis":{"orient":"right","values":[2,4,6,8,10,12,14,16],"format":"d","labelAngle":270,"labelAlign":"center","labelBaseline":"top","labelPadding":13,"tickSize":-4,"labelFlush":false,"labelOverlap":false,"title":null}},"color":{"field":"series","type":"nominal","scale":{"domain":["SE","NO","SW","DK","CZ","PO","HU","RO","BG"],"range":["#0000ff","#00ffff","#660066","#006666","#00ff00","#008000","#d98c00","#ff0000","#ff00ff"]},"legend":null},"strokeDash":{"field":"series","type":"nominal","scale":{"domain":["SE","NO","SW","DK","CZ","PO","HU","RO","BG"],"range":[[1,0],[5,3],[1,0],[1,0],[1.5,1.5],[1,0],[7,3,2,3],[7,4],[1.5,1.5]]},"legend":null},"order":{"field":"h","type":"quantitative"}}},
{"data":{"name":"irf"},"transform":[{"filter":{"field":"block","equal":"Advanced"}},{"filter":{"field":"series","oneOf":["SW","DK"]}}],"mark":{"type":"point","filled":false,"strokeWidth":1.4,"opacity":1},"encoding":{"x":{"field":"Risk","type":"quantitative","scale":{"domain":[-0.76,1.96],"reverse":true,"nice":false,"zero":false},"axis":{"orient":"top","values":[-0.5,0,0.5,1,1.5],"labels":false,"tickSize":-4,"title":null}},"y":{"field":"h","type":"quantitative","scale":{"domain":[1,16],"nice":false,"zero":false},"axis":{"orient":"left","values":[2,4,6,8,10,12,14,16],"labels":false,"tickSize":-4,"title":null}},"color":{"field":"series","type":"nominal","scale":{"domain":["SE","NO","SW","DK","CZ","PO","HU","RO","BG"],"range":["#0000ff","#00ffff","#660066","#006666","#00ff00","#008000","#d98c00","#ff0000","#ff00ff"]},"legend":null},"shape":{"field":"series","type":"nominal","scale":{"domain":["SW","DK","PO","RO","BG"],"range":["M-1,0L1,0M0,-1L0,1","circle","triangle-left","M-1,0L1,0M0,-1L0,1M-0.7,-0.7L0.7,0.7M-0.7,0.7L0.7,-0.7","circle"]},"legend":null},"size":{"field":"series","type":"nominal","scale":{"domain":["SW","DK","PO","RO","BG"],"range":[70,45,60,90,40]},"legend":null}}},
{"data":{"values":[{}]},"mark":{"type":"rule","color":"#000","strokeWidth":1,"strokeDash":[5,3]},"encoding":{"x":{"datum":0,"type":"quantitative","scale":{"domain":[-0.76,1.96],"reverse":true,"nice":false,"zero":false},"axis":null}}}
]},
{"width":23,"height":286,"data":{"name":"leg"},"transform":[{"filter":{"field":"block","equal":"Advanced"}}],"encoding":{"y":{"field":"series","type":"nominal","scale":{"type":"point","domain":["DK","SW","NO","SE"],"padding":0.5},"axis":null}},"layer":[
{"mark":{"type":"point","shape":"M0,-1L0,1","size":900,"strokeWidth":1.6,"yOffset":12,"filled":false,"opacity":1},"encoding":{"color":{"field":"series","type":"nominal","scale":{"domain":["SE","NO","SW","DK","CZ","PO","HU","RO","BG"],"range":["#0000ff","#00ffff","#660066","#006666","#00ff00","#008000","#d98c00","#ff0000","#ff00ff"]},"legend":null},"strokeDash":{"field":"series","type":"nominal","scale":{"domain":["SE","NO","SW","DK","CZ","PO","HU","RO","BG"],"range":[[1,0],[5,3],[1,0],[1,0],[1.5,1.5],[1,0],[7,3,2,3],[7,4],[1.5,1.5]]},"legend":null}}},
{"transform":[{"filter":{"field":"series","oneOf":["SW","DK"]}}],"mark":{"type":"point","filled":false,"strokeWidth":1.4,"yOffset":12,"opacity":1},"encoding":{"color":{"field":"series","type":"nominal","scale":{"domain":["SE","NO","SW","DK","CZ","PO","HU","RO","BG"],"range":["#0000ff","#00ffff","#660066","#006666","#00ff00","#008000","#d98c00","#ff0000","#ff00ff"]},"legend":null},"shape":{"field":"series","type":"nominal","scale":{"domain":["SW","DK","PO","RO","BG"],"range":["M-1,0L1,0M0,-1L0,1","circle","triangle-left","M-1,0L1,0M0,-1L0,1M-0.7,-0.7L0.7,0.7M-0.7,0.7L0.7,-0.7","circle"]},"legend":null},"size":{"field":"series","type":"nominal","scale":{"domain":["SW","DK","PO","RO","BG"],"range":[70,45,60,90,40]},"legend":null}}},
{"mark":{"type":"text","angle":270,"align":"left","baseline":"middle","yOffset":-8,"fontSize":12,"font":"Liberation Sans","color":"#000"},"encoding":{"text":{"field":"series","type":"nominal"}}}
]}
],
"config":{
"font":"Liberation Sans",
"view":{"stroke":"#262626","strokeWidth":1},
"axis":{"grid":false,"domain":false,"labelFont":"Liberation Sans","labelFontSize":11,"labelColor":"#262626","tickColor":"#262626","titleFont":"Liberation Sans","titleFontSize":16,"titleFontWeight":"bold","titleColor":"#000"}
}
}
